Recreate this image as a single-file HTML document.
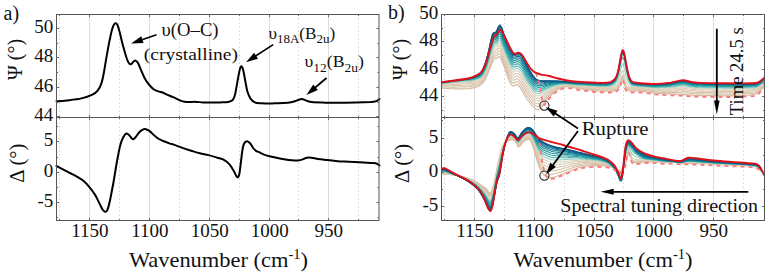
<!DOCTYPE html>
<html><head><meta charset="utf-8"><style>
html,body{margin:0;padding:0;background:#fff;}
body{width:769px;height:275px;overflow:hidden;font-family:"Liberation Serif", serif;}
svg{display:block;}
</style></head><body>
<svg width="769" height="275" viewBox="0 0 769 275"><line x1="89.5" y1="14.5" x2="89.5" y2="220.5" stroke="#dcdcdc" stroke-width="1"/>
<line x1="149.5" y1="14.5" x2="149.5" y2="220.5" stroke="#dcdcdc" stroke-width="1"/>
<line x1="209.5" y1="14.5" x2="209.5" y2="220.5" stroke="#dcdcdc" stroke-width="1"/>
<line x1="269.5" y1="14.5" x2="269.5" y2="220.5" stroke="#dcdcdc" stroke-width="1"/>
<line x1="328.5" y1="14.5" x2="328.5" y2="220.5" stroke="#dcdcdc" stroke-width="1"/>
<line x1="59.5" y1="14.5" x2="59.5" y2="220.5" stroke="#d4d4d4" stroke-width="1" stroke-dasharray="1.5,2.5"/>
<line x1="119.5" y1="14.5" x2="119.5" y2="220.5" stroke="#d4d4d4" stroke-width="1" stroke-dasharray="1.5,2.5"/>
<line x1="179.5" y1="14.5" x2="179.5" y2="220.5" stroke="#d4d4d4" stroke-width="1" stroke-dasharray="1.5,2.5"/>
<line x1="239.5" y1="14.5" x2="239.5" y2="220.5" stroke="#d4d4d4" stroke-width="1" stroke-dasharray="1.5,2.5"/>
<line x1="298.5" y1="14.5" x2="298.5" y2="220.5" stroke="#d4d4d4" stroke-width="1" stroke-dasharray="1.5,2.5"/>
<line x1="358.5" y1="14.5" x2="358.5" y2="220.5" stroke="#d4d4d4" stroke-width="1" stroke-dasharray="1.5,2.5"/>
<line x1="474.5" y1="14.5" x2="474.5" y2="220.5" stroke="#dcdcdc" stroke-width="1"/>
<line x1="534.5" y1="14.5" x2="534.5" y2="220.5" stroke="#dcdcdc" stroke-width="1"/>
<line x1="594.5" y1="14.5" x2="594.5" y2="220.5" stroke="#dcdcdc" stroke-width="1"/>
<line x1="653.5" y1="14.5" x2="653.5" y2="220.5" stroke="#dcdcdc" stroke-width="1"/>
<line x1="713.5" y1="14.5" x2="713.5" y2="220.5" stroke="#dcdcdc" stroke-width="1"/>
<line x1="444.5" y1="14.5" x2="444.5" y2="220.5" stroke="#d4d4d4" stroke-width="1" stroke-dasharray="1.5,2.5"/>
<line x1="504.5" y1="14.5" x2="504.5" y2="220.5" stroke="#d4d4d4" stroke-width="1" stroke-dasharray="1.5,2.5"/>
<line x1="564.5" y1="14.5" x2="564.5" y2="220.5" stroke="#d4d4d4" stroke-width="1" stroke-dasharray="1.5,2.5"/>
<line x1="623.5" y1="14.5" x2="623.5" y2="220.5" stroke="#d4d4d4" stroke-width="1" stroke-dasharray="1.5,2.5"/>
<line x1="683.5" y1="14.5" x2="683.5" y2="220.5" stroke="#d4d4d4" stroke-width="1" stroke-dasharray="1.5,2.5"/>
<line x1="743.5" y1="14.5" x2="743.5" y2="220.5" stroke="#d4d4d4" stroke-width="1" stroke-dasharray="1.5,2.5"/>
<g fill="none" stroke="#000" stroke-width="2.0" stroke-linejoin="round" stroke-linecap="round">
<path d="M56.5,101.3C58.2,101.2 62.7,101.0 66.9,100.5C71.1,100.0 77.2,99.4 81.5,98.4C85.8,97.4 89.7,96.0 92.4,94.7C95.1,93.4 96.3,92.3 97.8,90.4C99.3,88.5 100.5,86.0 101.5,83.1C102.5,80.2 103.0,77.2 103.8,73.0C104.6,68.8 105.5,62.7 106.4,57.6C107.3,52.5 108.3,46.9 109.2,42.4C110.1,37.9 111.0,33.4 111.8,30.4C112.6,27.4 113.3,25.7 114.0,24.5C114.7,23.3 115.2,23.2 115.8,23.3C116.4,23.4 116.9,23.8 117.5,25.2C118.1,26.6 118.8,29.0 119.5,31.5C120.2,34.0 120.8,36.9 121.6,40.2C122.4,43.5 123.6,47.9 124.5,51.1C125.4,54.3 126.3,57.4 127.1,59.5C127.9,61.6 128.8,63.1 129.5,63.8C130.2,64.5 130.8,64.2 131.5,63.8C132.2,63.4 132.9,62.0 133.6,61.5C134.3,61.0 134.9,60.3 135.6,60.6C136.3,60.9 137.1,61.5 138.0,63.1C138.9,64.7 140.1,67.8 141.1,70.2C142.1,72.6 143.1,75.2 144.2,77.3C145.3,79.4 146.4,81.2 147.5,82.7C148.6,84.2 149.6,85.4 150.7,86.5C151.8,87.6 152.7,88.7 154.0,89.5C155.3,90.3 157.0,90.9 158.4,91.4C159.8,91.9 161.2,92.0 162.7,92.5C164.1,93.0 165.6,94.0 167.1,94.7C168.6,95.4 170.1,95.9 171.5,96.5C172.9,97.1 174.4,97.7 175.8,98.4C177.2,99.1 178.8,100.0 180.2,100.5C181.6,101.0 182.9,101.5 184.5,101.7C186.1,101.9 188.0,101.9 190.0,101.9C192.0,101.9 194.3,101.8 196.5,101.9C198.7,102.0 200.5,102.3 203.1,102.4C205.7,102.5 208.9,102.4 211.8,102.4C214.7,102.4 217.8,102.5 220.5,102.4C223.2,102.3 226.2,102.3 228.2,101.9C230.2,101.5 231.4,101.2 232.5,100.2C233.6,99.2 234.0,98.0 234.7,95.8C235.4,93.6 235.9,90.4 236.5,87.1C237.1,83.8 237.8,79.3 238.4,76.2C239.0,73.1 239.6,70.1 240.1,68.5C240.6,66.9 241.1,66.2 241.6,66.4C242.1,66.7 242.6,67.6 243.2,70.0C243.8,72.4 244.6,77.4 245.3,81.0C246.0,84.6 246.5,88.6 247.4,91.5C248.3,94.4 249.2,96.8 250.5,98.6C251.8,100.4 253.4,101.8 255.3,102.6C257.2,103.4 259.6,103.0 261.8,103.2C264.0,103.4 266.2,103.6 268.4,103.6C270.6,103.6 272.4,103.3 274.9,103.2C277.4,103.1 280.7,103.2 283.6,103.0C286.5,102.8 290.2,102.3 292.4,101.9C294.6,101.5 295.3,101.0 296.7,100.6C298.1,100.1 299.4,99.4 300.5,99.2C301.6,99.0 302.0,99.1 303.0,99.3C304.0,99.5 304.9,100.1 306.4,100.6C307.9,101.1 309.1,101.8 311.8,102.1C314.5,102.4 319.2,102.5 322.8,102.6C326.4,102.7 328.2,102.8 333.7,102.8C339.1,102.8 349.3,102.7 355.5,102.6C361.7,102.5 367.3,102.3 370.8,102.1C374.3,101.8 374.9,101.6 376.3,101.1C377.8,100.6 379.0,99.3 379.5,99.0"/>
<path d="M56.5,165.8C57.5,166.4 60.4,168.0 62.5,169.1C64.6,170.2 66.8,171.4 69.1,172.6C71.4,173.8 74.2,175.0 76.5,176.3C78.8,177.6 80.9,178.7 83.1,180.5C85.3,182.3 87.6,184.9 89.6,187.3C91.6,189.7 93.4,192.2 95.1,194.9C96.8,197.6 98.2,201.1 99.5,203.6C100.8,206.1 101.8,208.3 102.7,209.7C103.6,211.0 104.2,211.5 104.9,211.7C105.6,211.8 106.4,211.9 107.1,210.6C107.8,209.2 108.6,206.6 109.3,203.6C110.0,200.6 110.8,196.5 111.5,192.7C112.2,188.9 113.0,185.3 113.7,181.0C114.5,176.7 115.3,171.2 116.0,167.0C116.7,162.8 117.3,159.5 118.0,156.0C118.7,152.5 119.2,149.3 120.0,146.2C120.8,143.1 122.0,139.6 123.1,137.5C124.2,135.4 125.4,133.9 126.4,133.5C127.4,133.1 128.3,134.5 129.2,135.3C130.1,136.1 131.1,137.8 131.8,138.5C132.5,139.2 132.9,139.5 133.6,139.2C134.3,138.8 135.2,137.6 136.2,136.4C137.2,135.2 138.2,133.2 139.5,132.0C140.8,130.8 142.7,129.7 143.8,129.2C144.9,128.7 145.1,128.9 146.0,129.2C146.9,129.5 148.0,130.0 149.3,130.9C150.6,131.8 152.2,133.5 153.6,134.8C155.0,136.1 156.5,137.5 158.0,138.5C159.5,139.5 160.4,139.8 162.4,140.7C164.4,141.5 168.1,142.9 170.0,143.6C171.9,144.2 171.6,143.9 173.7,144.6C175.8,145.3 179.5,146.9 182.4,147.9C185.3,148.9 188.3,149.8 191.2,150.7C194.1,151.6 197.0,152.6 199.9,153.3C202.8,154.0 205.7,154.4 208.6,155.1C211.5,155.8 214.8,156.9 217.3,157.7C219.9,158.5 221.9,158.8 223.9,159.9C225.9,161.0 227.7,162.4 229.3,164.2C230.9,166.0 232.4,168.6 233.7,170.8C235.0,173.0 236.2,176.6 237.1,177.2C238.0,177.8 238.6,176.9 239.2,174.5C239.8,172.1 240.3,166.9 240.8,163.0C241.3,159.1 241.8,154.2 242.3,151.0C242.8,147.8 243.2,145.4 244.0,143.8C244.8,142.2 245.9,141.4 247.0,141.3C248.1,141.2 249.2,142.3 250.3,143.5C251.4,144.7 252.6,147.3 253.5,148.5C254.4,149.7 255.1,150.2 256.0,150.8C256.9,151.4 257.4,151.5 259.0,152.2C260.6,152.9 263.0,154.2 265.5,155.1C268.0,155.9 271.3,156.7 274.2,157.3C277.1,158.0 280.1,158.5 283.0,159.0C285.9,159.5 289.2,160.1 291.7,160.3C294.2,160.6 296.4,160.7 298.2,160.5C300.0,160.3 301.2,159.9 302.6,159.4C304.1,158.9 305.4,158.0 306.9,157.7C308.3,157.4 309.4,157.5 311.3,157.7C313.2,157.9 315.5,158.6 318.1,159.0C320.7,159.4 323.5,159.7 326.8,160.1C330.1,160.5 334.1,160.9 337.7,161.2C341.3,161.5 345.0,161.6 348.6,161.8C352.2,162.0 355.9,162.0 359.5,162.2C363.1,162.4 367.7,162.7 370.4,162.9C373.1,163.1 374.3,162.9 375.8,163.3C377.3,163.7 378.9,165.1 379.5,165.5"/>
</g>
<defs><clipPath id="cb"><rect x="441.5" y="14.5" width="323" height="206"/></clipPath></defs><g clip-path="url(#cb)">
<g fill="none" stroke-width="1.10" stroke-linejoin="round"><path d="M441.5,88.1 443.0,88.2 444.5,88.3 446.0,88.4 447.5,88.5 449.0,88.6 450.5,88.7 452.0,88.8 453.5,88.8 455.0,88.9 456.5,88.9 458.0,88.9 459.5,88.9 461.0,88.9 462.5,88.9 464.0,88.9 465.5,88.8 467.0,88.7 468.5,88.6 470.0,88.4 471.5,88.1 473.0,87.9 474.5,87.6 476.0,87.3 477.5,86.8 479.0,86.0 480.5,84.9 482.0,83.6 483.5,82.1 485.0,80.0 486.5,76.9 488.0,73.2 489.5,69.3 491.0,65.7 492.5,62.5 494.0,59.1 495.5,57.9 497.0,58.5 498.5,56.5 500.0,56.9 501.5,59.8 503.0,63.8 504.5,67.6 506.0,71.9 507.5,76.2 509.0,79.9 510.5,83.1 512.0,85.5 513.5,86.3 515.0,85.1 516.5,84.5 518.0,85.0 519.5,86.7 521.0,88.9 522.5,91.3 524.0,94.0 525.5,96.7 527.0,99.0 528.5,101.1 530.0,103.0 531.5,104.9 533.0,106.6 534.5,107.9 536.0,109.0 537.5,109.6 539.0,109.4 540.5,108.5 542.0,107.0 543.5,104.8 545.0,102.4 546.5,100.5 548.0,98.7 549.5,97.0 551.0,95.4 552.5,93.8 554.0,92.4 555.5,91.1 557.0,90.1 558.5,89.2 560.0,88.5 561.5,87.9 563.0,87.4 564.5,87.1 566.0,86.8 567.5,86.8 569.0,86.8 570.5,86.9 572.0,87.2 573.5,87.6 575.0,87.9 576.5,88.3 578.0,88.5 579.5,88.8 581.0,89.0 582.5,89.1 584.0,89.3 585.5,89.5 587.0,89.7 588.5,89.9 590.0,90.1 591.5,90.3 593.0,90.5 594.5,90.7 596.0,90.8 597.5,90.9 599.0,91.0 600.5,91.0 602.0,91.1 603.5,91.1 605.0,91.1 606.5,91.2 608.0,91.2 609.5,91.2 611.0,91.2 612.5,91.1 614.0,90.9 615.5,90.6 617.0,89.7 618.5,88.3 620.0,85.7 621.5,80.4 623.0,78.2 624.5,84.4 626.0,89.2 627.5,90.3 629.0,90.7 630.5,91.0 632.0,91.0 633.5,91.0 635.0,90.9 636.5,90.9 638.0,90.9 639.5,91.0 641.0,91.1 642.5,91.3 644.0,91.4 645.5,91.6 647.0,91.8 648.5,92.0 650.0,92.3 651.5,92.6 653.0,92.8 654.5,93.0 656.0,93.2 657.5,93.3 659.0,93.4 660.5,93.5 662.0,93.5 663.5,93.6 665.0,93.7 666.5,93.8 668.0,93.9 669.5,93.9 671.0,94.0 672.5,94.1 674.0,94.1 675.5,94.1 677.0,94.2 678.5,94.2 680.0,94.3 681.5,94.4 683.0,94.5 684.5,94.6 686.0,94.7 687.5,94.9 689.0,95.0 690.5,95.1 692.0,95.2 693.5,95.3 695.0,95.4 696.5,95.4 698.0,95.4 699.5,95.5 701.0,95.5 702.5,95.5 704.0,95.5 705.5,95.5 707.0,95.5 708.5,95.5 710.0,95.6 711.5,95.6 713.0,95.6 714.5,95.6 716.0,95.6 717.5,95.6 719.0,95.6 720.5,95.7 722.0,95.7 723.5,95.7 725.0,95.7 726.5,95.7 728.0,95.7 729.5,95.7 731.0,95.7 732.5,95.7 734.0,95.6 735.5,95.6 737.0,95.6 738.5,95.5 740.0,95.5 741.5,95.5 743.0,95.4 744.5,95.4 746.0,95.3 747.5,95.2 749.0,95.1 750.5,95.0 752.0,94.9 753.5,94.7 755.0,94.3 756.5,93.7 758.0,92.9 759.5,91.5 761.0,90.1 762.5,88.7 764.0,87.3" stroke="#d2b89c"/><path d="M441.5,86.9 443.0,86.9 444.5,87.0 446.0,87.0 447.5,87.0 449.0,87.1 450.5,87.1 452.0,87.1 453.5,87.1 455.0,87.1 456.5,87.0 458.0,87.0 459.5,87.0 461.0,86.9 462.5,86.9 464.0,86.9 465.5,86.9 467.0,86.8 468.5,86.7 470.0,86.6 471.5,86.4 473.0,86.2 474.5,85.9 476.0,85.7 477.5,85.3 479.0,84.5 480.5,83.5 482.0,82.2 483.5,80.5 485.0,78.4 486.5,75.3 488.0,71.4 489.5,67.2 491.0,63.3 492.5,59.9 494.0,56.6 495.5,55.6 497.0,55.8 498.5,53.7 500.0,54.0 501.5,56.8 503.0,60.8 504.5,64.7 506.0,68.8 507.5,73.1 509.0,76.8 510.5,80.0 512.0,82.4 513.5,83.3 515.0,82.3 516.5,81.6 518.0,82.1 519.5,83.6 521.0,85.7 522.5,88.1 524.0,90.8 525.5,93.5 527.0,95.9 528.5,98.0 530.0,100.0 531.5,101.9 533.0,103.6 534.5,105.0 536.0,106.1 537.5,106.6 539.0,106.4 540.5,105.6 542.0,104.3 543.5,102.3 545.0,100.2 546.5,98.4 548.0,96.9 549.5,95.3 551.0,93.8 552.5,92.4 554.0,91.1 555.5,90.0 557.0,89.1 558.5,88.3 560.0,87.7 561.5,87.2 563.0,86.8 564.5,86.5 566.0,86.3 567.5,86.2 569.0,86.3 570.5,86.4 572.0,86.7 573.5,87.0 575.0,87.3 576.5,87.6 578.0,87.9 579.5,88.1 581.0,88.2 582.5,88.4 584.0,88.6 585.5,88.7 587.0,88.9 588.5,89.1 590.0,89.3 591.5,89.4 593.0,89.6 594.5,89.8 596.0,89.9 597.5,89.9 599.0,90.0 600.5,90.1 602.0,90.1 603.5,90.1 605.0,90.2 606.5,90.2 608.0,90.2 609.5,90.2 611.0,90.2 612.5,90.1 614.0,89.9 615.5,89.6 617.0,88.7 618.5,87.3 620.0,84.7 621.5,79.4 623.0,77.3 624.5,83.5 626.0,88.2 627.5,89.4 629.0,89.8 630.5,90.0 632.0,90.0 633.5,90.0 635.0,89.9 636.5,89.9 638.0,89.9 639.5,90.1 641.0,90.2 642.5,90.3 644.0,90.5 645.5,90.7 647.0,90.8 648.5,91.0 650.0,91.3 651.5,91.5 653.0,91.7 654.5,91.9 656.0,92.1 657.5,92.2 659.0,92.2 660.5,92.3 662.0,92.3 663.5,92.4 665.0,92.4 666.5,92.5 668.0,92.5 669.5,92.6 671.0,92.6 672.5,92.6 674.0,92.6 675.5,92.6 677.0,92.6 678.5,92.6 680.0,92.6 681.5,92.7 683.0,92.7 684.5,92.9 686.0,93.0 687.5,93.1 689.0,93.3 690.5,93.5 692.0,93.6 693.5,93.7 695.0,93.8 696.5,93.8 698.0,93.9 699.5,93.9 701.0,93.9 702.5,93.9 704.0,94.0 705.5,94.0 707.0,94.0 708.5,94.0 710.0,94.0 711.5,94.0 713.0,94.0 714.5,94.1 716.0,94.1 717.5,94.1 719.0,94.1 720.5,94.1 722.0,94.1 723.5,94.2 725.0,94.2 726.5,94.2 728.0,94.2 729.5,94.2 731.0,94.1 732.5,94.1 734.0,94.1 735.5,94.1 737.0,94.1 738.5,94.0 740.0,94.0 741.5,94.0 743.0,93.9 744.5,93.9 746.0,93.8 747.5,93.8 749.0,93.7 750.5,93.6 752.0,93.5 753.5,93.3 755.0,93.0 756.5,92.4 758.0,91.6 759.5,90.3 761.0,88.9 762.5,87.5 764.0,86.1" stroke="#d5bda2"/><path d="M441.5,85.9 443.0,85.9 444.5,85.8 446.0,85.8 447.5,85.8 449.0,85.8 450.5,85.7 452.0,85.7 453.5,85.6 455.0,85.6 456.5,85.5 458.0,85.4 459.5,85.4 461.0,85.3 462.5,85.2 464.0,85.2 465.5,85.2 467.0,85.2 468.5,85.1 470.0,85.0 471.5,84.9 473.0,84.7 474.5,84.5 476.0,84.2 477.5,83.8 479.0,83.1 480.5,82.1 482.0,80.8 483.5,79.1 485.0,76.9 486.5,73.7 488.0,69.7 489.5,65.2 491.0,61.0 492.5,57.3 494.0,54.3 495.5,53.3 497.0,53.3 498.5,51.0 500.0,51.1 501.5,53.8 503.0,57.8 504.5,61.8 506.0,65.9 507.5,70.0 509.0,73.7 510.5,76.9 512.0,79.4 513.5,80.4 515.0,79.5 516.5,78.8 518.0,79.2 519.5,80.6 521.0,82.6 522.5,84.9 524.0,87.6 525.5,90.4 527.0,92.8 528.5,95.0 530.0,97.0 531.5,99.0 533.0,100.7 534.5,102.1 536.0,103.2 537.5,103.8 539.0,103.6 540.5,102.9 542.0,101.7 543.5,100.0 545.0,98.0 546.5,96.5 548.0,95.1 549.5,93.7 551.0,92.4 552.5,91.1 554.0,90.0 555.5,89.0 557.0,88.2 558.5,87.5 560.0,87.0 561.5,86.5 563.0,86.2 564.5,85.9 566.0,85.8 567.5,85.7 569.0,85.8 570.5,85.9 572.0,86.1 573.5,86.4 575.0,86.7 576.5,87.0 578.0,87.2 579.5,87.4 581.0,87.5 582.5,87.7 584.0,87.8 585.5,88.0 587.0,88.1 588.5,88.3 590.0,88.5 591.5,88.6 593.0,88.8 594.5,88.9 596.0,89.0 597.5,89.1 599.0,89.1 600.5,89.2 602.0,89.2 603.5,89.2 605.0,89.2 606.5,89.2 608.0,89.3 609.5,89.3 611.0,89.2 612.5,89.2 614.0,89.0 615.5,88.6 617.0,87.8 618.5,86.3 620.0,83.8 621.5,78.5 623.0,76.3 624.5,82.5 626.0,87.3 627.5,88.5 629.0,88.9 630.5,89.1 632.0,89.1 633.5,89.1 635.0,89.0 636.5,89.0 638.0,89.1 639.5,89.2 641.0,89.3 642.5,89.4 644.0,89.6 645.5,89.8 647.0,89.9 648.5,90.1 650.0,90.3 651.5,90.5 653.0,90.7 654.5,90.9 656.0,91.0 657.5,91.1 659.0,91.1 660.5,91.2 662.0,91.2 663.5,91.2 665.0,91.3 666.5,91.3 668.0,91.3 669.5,91.3 671.0,91.3 672.5,91.3 674.0,91.2 675.5,91.1 677.0,91.1 678.5,91.0 680.0,91.0 681.5,91.0 683.0,91.1 684.5,91.2 686.0,91.4 687.5,91.5 689.0,91.7 690.5,91.9 692.0,92.1 693.5,92.2 695.0,92.3 696.5,92.4 698.0,92.4 699.5,92.4 701.0,92.5 702.5,92.5 704.0,92.5 705.5,92.5 707.0,92.6 708.5,92.6 710.0,92.6 711.5,92.6 713.0,92.6 714.5,92.6 716.0,92.6 717.5,92.7 719.0,92.7 720.5,92.7 722.0,92.7 723.5,92.7 725.0,92.7 726.5,92.7 728.0,92.7 729.5,92.7 731.0,92.7 732.5,92.7 734.0,92.7 735.5,92.7 737.0,92.7 738.5,92.6 740.0,92.6 741.5,92.6 743.0,92.5 744.5,92.5 746.0,92.5 747.5,92.4 749.0,92.3 750.5,92.3 752.0,92.1 753.5,92.0 755.0,91.7 756.5,91.2 758.0,90.4 759.5,89.1 761.0,87.8 762.5,86.5 764.0,85.1" stroke="#d8c3a9"/><path d="M441.5,85.1 443.0,85.0 444.5,84.9 446.0,84.8 447.5,84.8 449.0,84.7 450.5,84.6 452.0,84.5 453.5,84.4 455.0,84.3 456.5,84.2 458.0,84.1 459.5,84.0 461.0,83.9 462.5,83.8 464.0,83.8 465.5,83.8 467.0,83.8 468.5,83.8 470.0,83.7 471.5,83.6 473.0,83.4 474.5,83.1 476.0,82.9 477.5,82.5 479.0,81.8 480.5,80.9 482.0,79.5 483.5,77.7 485.0,75.4 486.5,72.1 488.0,68.0 489.5,63.2 491.0,58.7 492.5,54.9 494.0,52.0 495.5,51.1 497.0,50.8 498.5,48.3 500.0,48.3 501.5,51.0 503.0,55.0 504.5,58.9 506.0,63.0 507.5,67.1 509.0,70.8 510.5,74.0 512.0,76.5 513.5,77.6 515.0,76.8 516.5,76.1 518.0,76.4 519.5,77.6 521.0,79.5 522.5,81.8 524.0,84.5 525.5,87.3 527.0,89.9 528.5,92.1 530.0,94.2 531.5,96.2 533.0,97.9 534.5,99.4 536.0,100.5 537.5,101.0 539.0,100.9 540.5,100.3 542.0,99.3 543.5,97.7 545.0,95.9 546.5,94.6 548.0,93.3 549.5,92.1 551.0,91.0 552.5,89.9 554.0,88.9 555.5,88.0 557.0,87.3 558.5,86.7 560.0,86.3 561.5,85.9 563.0,85.6 564.5,85.4 566.0,85.3 567.5,85.2 569.0,85.3 570.5,85.4 572.0,85.6 573.5,85.9 575.0,86.2 576.5,86.4 578.0,86.6 579.5,86.8 581.0,86.9 582.5,87.0 584.0,87.1 585.5,87.3 587.0,87.4 588.5,87.6 590.0,87.7 591.5,87.9 593.0,88.0 594.5,88.1 596.0,88.2 597.5,88.2 599.0,88.3 600.5,88.3 602.0,88.3 603.5,88.4 605.0,88.4 606.5,88.4 608.0,88.4 609.5,88.4 611.0,88.4 612.5,88.3 614.0,88.1 615.5,87.7 617.0,86.9 618.5,85.5 620.0,82.9 621.5,77.6 623.0,75.5 624.5,81.7 626.0,86.5 627.5,87.6 629.0,88.0 630.5,88.2 632.0,88.3 633.5,88.2 635.0,88.2 636.5,88.2 638.0,88.2 639.5,88.4 641.0,88.5 642.5,88.6 644.0,88.8 645.5,88.9 647.0,89.1 648.5,89.3 650.0,89.5 651.5,89.6 653.0,89.8 654.5,90.0 656.0,90.0 657.5,90.1 659.0,90.1 660.5,90.1 662.0,90.1 663.5,90.2 665.0,90.2 666.5,90.2 668.0,90.1 669.5,90.1 671.0,90.1 672.5,90.0 674.0,89.9 675.5,89.8 677.0,89.7 678.5,89.6 680.0,89.6 681.5,89.5 683.0,89.6 684.5,89.7 686.0,89.8 687.5,90.1 689.0,90.3 690.5,90.5 692.0,90.7 693.5,90.8 695.0,90.9 696.5,91.0 698.0,91.0 699.5,91.1 701.0,91.1 702.5,91.1 704.0,91.2 705.5,91.2 707.0,91.2 708.5,91.2 710.0,91.3 711.5,91.3 713.0,91.3 714.5,91.3 716.0,91.3 717.5,91.3 719.0,91.4 720.5,91.4 722.0,91.4 723.5,91.4 725.0,91.4 726.5,91.4 728.0,91.4 729.5,91.4 731.0,91.4 732.5,91.4 734.0,91.4 735.5,91.4 737.0,91.4 738.5,91.3 740.0,91.3 741.5,91.3 743.0,91.3 744.5,91.2 746.0,91.2 747.5,91.1 749.0,91.1 750.5,91.0 752.0,90.9 753.5,90.8 755.0,90.5 756.5,90.1 758.0,89.2 759.5,88.1 761.0,86.8 762.5,85.5 764.0,84.1" stroke="#dcc8af"/><path d="M441.5,84.4 443.0,84.3 444.5,84.2 446.0,84.1 447.5,83.9 449.0,83.8 450.5,83.7 452.0,83.6 453.5,83.5 455.0,83.3 456.5,83.2 458.0,83.1 459.5,82.9 461.0,82.8 462.5,82.7 464.0,82.7 465.5,82.7 467.0,82.6 468.5,82.6 470.0,82.5 471.5,82.4 473.0,82.2 474.5,82.0 476.0,81.7 477.5,81.2 479.0,80.6 480.5,79.7 482.0,78.3 483.5,76.4 485.0,74.0 486.5,70.6 488.0,66.3 489.5,61.4 491.0,56.5 492.5,52.5 494.0,49.7 495.5,49.0 497.0,48.4 498.5,45.8 500.0,45.6 501.5,48.2 503.0,52.3 504.5,56.2 506.0,60.2 507.5,64.3 509.0,67.9 510.5,71.1 512.0,73.6 513.5,74.9 515.0,74.1 516.5,73.4 518.0,73.7 519.5,74.8 521.0,76.6 522.5,78.8 524.0,81.6 525.5,84.4 527.0,87.0 528.5,89.4 530.0,91.5 531.5,93.5 533.0,95.3 534.5,96.8 536.0,97.9 537.5,98.4 539.0,98.4 540.5,97.8 542.0,96.9 543.5,95.5 545.0,94.0 546.5,92.8 548.0,91.7 549.5,90.7 551.0,89.7 552.5,88.7 554.0,87.8 555.5,87.1 557.0,86.5 558.5,86.0 560.0,85.6 561.5,85.3 563.0,85.0 564.5,84.9 566.0,84.8 567.5,84.8 569.0,84.8 570.5,85.0 572.0,85.2 573.5,85.4 575.0,85.6 576.5,85.9 578.0,86.0 579.5,86.2 581.0,86.3 582.5,86.4 584.0,86.5 585.5,86.6 587.0,86.7 588.5,86.9 590.0,87.0 591.5,87.1 593.0,87.2 594.5,87.3 596.0,87.4 597.5,87.5 599.0,87.5 600.5,87.5 602.0,87.6 603.5,87.6 605.0,87.6 606.5,87.6 608.0,87.6 609.5,87.6 611.0,87.6 612.5,87.5 614.0,87.3 615.5,86.9 617.0,86.0 618.5,84.6 620.0,82.0 621.5,76.7 623.0,74.5 624.5,80.7 626.0,85.5 627.5,86.7 629.0,87.2 630.5,87.4 632.0,87.5 633.5,87.5 635.0,87.4 636.5,87.4 638.0,87.5 639.5,87.6 641.0,87.7 642.5,87.9 644.0,88.0 645.5,88.2 647.0,88.3 648.5,88.5 650.0,88.7 651.5,88.8 653.0,89.0 654.5,89.1 656.0,89.2 657.5,89.2 659.0,89.2 660.5,89.2 662.0,89.2 663.5,89.2 665.0,89.1 666.5,89.1 668.0,89.1 669.5,89.0 671.0,89.0 672.5,88.9 674.0,88.7 675.5,88.6 677.0,88.4 678.5,88.3 680.0,88.2 681.5,88.2 683.0,88.2 684.5,88.3 686.0,88.5 687.5,88.7 689.0,89.0 690.5,89.2 692.0,89.4 693.5,89.5 695.0,89.6 696.5,89.7 698.0,89.8 699.5,89.8 701.0,89.9 702.5,89.9 704.0,89.9 705.5,90.0 707.0,90.0 708.5,90.0 710.0,90.0 711.5,90.0 713.0,90.1 714.5,90.1 716.0,90.1 717.5,90.1 719.0,90.1 720.5,90.2 722.0,90.2 723.5,90.2 725.0,90.2 726.5,90.2 728.0,90.2 729.5,90.2 731.0,90.2 732.5,90.2 734.0,90.2 735.5,90.2 737.0,90.2 738.5,90.2 740.0,90.1 741.5,90.1 743.0,90.1 744.5,90.1 746.0,90.0 747.5,90.0 749.0,89.9 750.5,89.9 752.0,89.8 753.5,89.6 755.0,89.4 756.5,89.0 758.0,88.2 759.5,87.1 761.0,85.9 762.5,84.6 764.0,83.2" stroke="#ddcdb6"/><path d="M441.5,83.9 443.0,83.7 444.5,83.6 446.0,83.4 447.5,83.3 449.0,83.1 450.5,83.0 452.0,82.8 453.5,82.7 455.0,82.5 456.5,82.4 458.0,82.2 459.5,82.1 461.0,81.9 462.5,81.8 464.0,81.8 465.5,81.7 467.0,81.7 468.5,81.6 470.0,81.5 471.5,81.4 473.0,81.2 474.5,80.9 476.0,80.6 477.5,80.1 479.0,79.5 480.5,78.6 482.0,77.2 483.5,75.2 485.0,72.7 486.5,69.2 488.0,64.7 489.5,59.5 491.0,54.4 492.5,50.2 494.0,47.6 495.5,46.9 497.0,46.0 498.5,43.4 500.0,43.1 501.5,45.6 503.0,49.7 504.5,53.6 506.0,57.6 507.5,61.5 509.0,65.2 510.5,68.3 512.0,70.9 513.5,72.3 515.0,71.6 516.5,70.9 518.0,71.0 519.5,72.1 521.0,73.8 522.5,75.9 524.0,78.7 525.5,81.6 527.0,84.3 528.5,86.7 530.0,88.8 531.5,90.9 533.0,92.7 534.5,94.3 536.0,95.4 537.5,95.9 539.0,95.9 540.5,95.4 542.0,94.6 543.5,93.4 545.0,92.1 546.5,91.1 548.0,90.2 549.5,89.3 551.0,88.4 552.5,87.6 554.0,86.9 555.5,86.2 557.0,85.7 558.5,85.3 560.0,85.0 561.5,84.7 563.0,84.5 564.5,84.4 566.0,84.3 567.5,84.4 569.0,84.4 570.5,84.5 572.0,84.7 573.5,84.9 575.0,85.1 576.5,85.3 578.0,85.5 579.5,85.6 581.0,85.7 582.5,85.8 584.0,85.9 585.5,86.0 587.0,86.1 588.5,86.2 590.0,86.4 591.5,86.5 593.0,86.6 594.5,86.7 596.0,86.7 597.5,86.8 599.0,86.8 600.5,86.8 602.0,86.8 603.5,86.9 605.0,86.9 606.5,86.8 608.0,86.8 609.5,86.8 611.0,86.6 612.5,86.4 614.0,86.1 615.5,85.5 617.0,84.2 618.5,81.9 620.0,78.4 621.5,72.6 623.0,70.2 624.5,76.1 626.0,81.6 627.5,84.0 629.0,85.4 630.5,86.2 632.0,86.6 633.5,86.7 635.0,86.7 636.5,86.7 638.0,86.8 639.5,86.9 641.0,87.0 642.5,87.2 644.0,87.3 645.5,87.5 647.0,87.6 648.5,87.8 650.0,87.9 651.5,88.1 653.0,88.2 654.5,88.3 656.0,88.3 657.5,88.4 659.0,88.3 660.5,88.3 662.0,88.3 663.5,88.3 665.0,88.2 666.5,88.2 668.0,88.1 669.5,88.0 671.0,87.9 672.5,87.8 674.0,87.6 675.5,87.5 677.0,87.3 678.5,87.1 680.0,87.0 681.5,86.9 683.0,86.9 684.5,87.0 686.0,87.2 687.5,87.5 689.0,87.7 690.5,88.0 692.0,88.2 693.5,88.4 695.0,88.5 696.5,88.6 698.0,88.7 699.5,88.7 701.0,88.8 702.5,88.8 704.0,88.8 705.5,88.8 707.0,88.9 708.5,88.9 710.0,88.9 711.5,88.9 713.0,88.9 714.5,89.0 716.0,89.0 717.5,89.0 719.0,89.0 720.5,89.0 722.0,89.1 723.5,89.1 725.0,89.1 726.5,89.1 728.0,89.1 729.5,89.1 731.0,89.1 732.5,89.1 734.0,89.1 735.5,89.1 737.0,89.1 738.5,89.1 740.0,89.0 741.5,89.0 743.0,89.0 744.5,89.0 746.0,89.0 747.5,88.9 749.0,88.9 750.5,88.8 752.0,88.7 753.5,88.6 755.0,88.4 756.5,88.0 758.0,87.3 759.5,86.3 761.0,85.0 762.5,83.7 764.0,82.4" stroke="#d8d2bd"/><path d="M441.5,83.4 443.0,83.3 444.5,83.1 446.0,82.9 447.5,82.8 449.0,82.6 450.5,82.4 452.0,82.3 453.5,82.1 455.0,81.9 456.5,81.7 458.0,81.6 459.5,81.4 461.0,81.2 462.5,81.1 464.0,81.0 465.5,80.9 467.0,80.9 468.5,80.8 470.0,80.7 471.5,80.5 473.0,80.3 474.5,80.0 476.0,79.7 477.5,79.2 479.0,78.5 480.5,77.6 482.0,76.1 483.5,74.0 485.0,71.4 486.5,67.8 488.0,63.2 489.5,57.8 491.0,52.4 492.5,47.9 494.0,45.5 495.5,44.9 497.0,43.8 498.5,41.0 500.0,40.6 501.5,43.0 503.0,47.1 504.5,51.1 506.0,55.0 507.5,58.9 509.0,62.5 510.5,65.7 512.0,68.3 513.5,69.7 515.0,69.2 516.5,68.5 518.0,68.5 519.5,69.5 521.0,71.0 522.5,73.2 524.0,75.9 525.5,78.9 527.0,81.6 528.5,84.1 530.0,86.3 531.5,88.4 533.0,90.2 534.5,91.9 536.0,93.0 537.5,93.5 539.0,93.6 540.5,93.2 542.0,92.5 543.5,91.5 545.0,90.4 546.5,89.5 548.0,88.7 549.5,88.0 551.0,87.2 552.5,86.6 554.0,85.9 555.5,85.4 557.0,85.0 558.5,84.6 560.0,84.4 561.5,84.2 563.0,84.0 564.5,83.9 566.0,83.9 567.5,84.0 569.0,84.0 570.5,84.2 572.0,84.3 573.5,84.5 575.0,84.7 576.5,84.9 578.0,85.0 579.5,85.1 581.0,85.2 582.5,85.2 584.0,85.3 585.5,85.4 587.0,85.5 588.5,85.6 590.0,85.8 591.5,85.9 593.0,85.9 594.5,86.0 596.0,86.1 597.5,86.1 599.0,86.2 600.5,86.2 602.0,86.2 603.5,86.2 605.0,86.2 606.5,86.2 608.0,86.1 609.5,86.0 611.0,85.6 612.5,85.3 614.0,84.6 615.5,83.5 617.0,81.5 618.5,78.0 620.0,72.7 621.5,66.2 623.0,63.4 624.5,68.8 626.0,75.3 627.5,79.8 629.0,82.9 630.5,84.7 632.0,85.6 633.5,85.8 635.0,86.0 636.5,86.1 638.0,86.2 639.5,86.3 641.0,86.4 642.5,86.6 644.0,86.7 645.5,86.8 647.0,87.0 648.5,87.1 650.0,87.3 651.5,87.4 653.0,87.5 654.5,87.6 656.0,87.6 657.5,87.6 659.0,87.6 660.5,87.5 662.0,87.5 663.5,87.4 665.0,87.4 666.5,87.3 668.0,87.2 669.5,87.1 671.0,87.0 672.5,86.9 674.0,86.7 675.5,86.4 677.0,86.2 678.5,86.0 680.0,85.9 681.5,85.8 683.0,85.7 684.5,85.8 686.0,86.0 687.5,86.3 689.0,86.6 690.5,86.9 692.0,87.2 693.5,87.3 695.0,87.4 696.5,87.6 698.0,87.6 699.5,87.7 701.0,87.7 702.5,87.8 704.0,87.8 705.5,87.8 707.0,87.9 708.5,87.9 710.0,87.9 711.5,87.9 713.0,87.9 714.5,88.0 716.0,88.0 717.5,88.0 719.0,88.0 720.5,88.0 722.0,88.0 723.5,88.1 725.0,88.1 726.5,88.1 728.0,88.1 729.5,88.1 731.0,88.1 732.5,88.1 734.0,88.1 735.5,88.1 737.0,88.1 738.5,88.1 740.0,88.1 741.5,88.1 743.0,88.0 744.5,88.0 746.0,88.0 747.5,88.0 749.0,87.9 750.5,87.9 752.0,87.8 753.5,87.7 755.0,87.5 756.5,87.2 758.0,86.4 759.5,85.5 761.0,84.3 762.5,83.0 764.0,81.7" stroke="#96cdc3"/><path d="M441.5,83.1 443.0,82.9 444.5,82.7 446.0,82.6 447.5,82.4 449.0,82.2 450.5,82.0 452.0,81.8 453.5,81.6 455.0,81.4 456.5,81.3 458.0,81.1 459.5,80.9 461.0,80.7 462.5,80.5 464.0,80.4 465.5,80.3 467.0,80.2 468.5,80.1 470.0,80.0 471.5,79.8 473.0,79.6 474.5,79.2 476.0,78.8 477.5,78.3 479.0,77.7 480.5,76.7 482.0,75.2 483.5,72.9 485.0,70.1 486.5,66.4 488.0,61.7 489.5,56.1 491.0,50.5 492.5,45.8 494.0,43.5 495.5,43.0 497.0,41.7 498.5,38.8 500.0,38.2 501.5,40.6 503.0,44.7 504.5,48.6 506.0,52.5 507.5,56.4 509.0,60.0 510.5,63.1 512.0,65.8 513.5,67.3 515.0,66.9 516.5,66.1 518.0,66.1 519.5,67.0 521.0,68.4 522.5,70.5 524.0,73.3 525.5,76.3 527.0,79.1 528.5,81.6 530.0,83.9 531.5,86.0 533.0,87.9 534.5,89.6 536.0,90.7 537.5,91.3 539.0,91.4 540.5,91.1 542.0,90.5 543.5,89.7 545.0,88.7 546.5,88.0 548.0,87.4 549.5,86.7 551.0,86.1 552.5,85.6 554.0,85.1 555.5,84.6 557.0,84.3 558.5,84.0 560.0,83.8 561.5,83.7 563.0,83.6 564.5,83.5 566.0,83.5 567.5,83.6 569.0,83.7 570.5,83.8 572.0,83.9 573.5,84.1 575.0,84.3 576.5,84.4 578.0,84.5 579.5,84.6 581.0,84.7 582.5,84.7 584.0,84.8 585.5,84.9 587.0,85.0 588.5,85.1 590.0,85.2 591.5,85.3 593.0,85.4 594.5,85.4 596.0,85.5 597.5,85.5 599.0,85.6 600.5,85.6 602.0,85.6 603.5,85.6 605.0,85.6 606.5,85.6 608.0,85.5 609.5,85.3 611.0,84.7 612.5,84.2 614.0,83.2 615.5,81.7 617.0,78.9 618.5,74.0 620.0,67.0 621.5,59.8 623.0,56.7 624.5,61.5 626.0,69.1 627.5,75.6 629.0,80.4 630.5,83.2 632.0,84.6 633.5,85.1 635.0,85.3 636.5,85.5 638.0,85.6 639.5,85.7 641.0,85.9 642.5,86.0 644.0,86.1 645.5,86.3 647.0,86.4 648.5,86.5 650.0,86.7 651.5,86.8 653.0,86.9 654.5,86.9 656.0,86.9 657.5,86.9 659.0,86.9 660.5,86.8 662.0,86.8 663.5,86.7 665.0,86.6 666.5,86.6 668.0,86.5 669.5,86.3 671.0,86.2 672.5,86.0 674.0,85.8 675.5,85.5 677.0,85.3 678.5,85.1 680.0,84.9 681.5,84.7 683.0,84.7 684.5,84.8 686.0,85.0 687.5,85.3 689.0,85.7 690.5,86.0 692.0,86.2 693.5,86.4 695.0,86.5 696.5,86.6 698.0,86.7 699.5,86.8 701.0,86.8 702.5,86.9 704.0,86.9 705.5,86.9 707.0,86.9 708.5,87.0 710.0,87.0 711.5,87.0 713.0,87.0 714.5,87.1 716.0,87.1 717.5,87.1 719.0,87.1 720.5,87.1 722.0,87.1 723.5,87.2 725.0,87.2 726.5,87.2 728.0,87.2 729.5,87.2 731.0,87.2 732.5,87.2 734.0,87.2 735.5,87.2 737.0,87.2 738.5,87.2 740.0,87.2 741.5,87.2 743.0,87.2 744.5,87.2 746.0,87.1 747.5,87.1 749.0,87.1 750.5,87.0 752.0,87.0 753.5,86.9 755.0,86.7 756.5,86.4 758.0,85.7 759.5,84.8 761.0,83.6 762.5,82.3 764.0,81.0" stroke="#4bb4b0"/><path d="M441.5,82.9 443.0,82.7 444.5,82.5 446.0,82.3 447.5,82.1 449.0,81.9 450.5,81.7 452.0,81.5 453.5,81.3 455.0,81.1 456.5,80.9 458.0,80.7 459.5,80.5 461.0,80.3 462.5,80.2 464.0,80.0 465.5,79.9 467.0,79.8 468.5,79.6 470.0,79.5 471.5,79.3 473.0,79.0 474.5,78.6 476.0,78.1 477.5,77.6 479.0,76.9 480.5,75.9 482.0,74.3 483.5,71.9 485.0,69.0 486.5,65.2 488.0,60.3 489.5,54.6 491.0,48.6 492.5,43.8 494.0,41.7 495.5,41.2 497.0,39.6 498.5,36.6 500.0,35.9 501.5,38.3 503.0,42.4 504.5,46.3 506.0,50.2 507.5,54.0 509.0,57.6 510.5,60.7 512.0,63.4 513.5,65.0 515.0,64.7 516.5,63.9 518.0,63.8 519.5,64.6 521.0,66.0 522.5,68.0 524.0,70.8 525.5,73.9 527.0,76.7 528.5,79.3 530.0,81.6 531.5,83.8 533.0,85.7 534.5,87.4 536.0,88.6 537.5,89.2 539.0,89.3 540.5,89.1 542.0,88.7 543.5,88.0 545.0,87.2 546.5,86.6 548.0,86.1 549.5,85.6 551.0,85.1 552.5,84.7 554.0,84.3 555.5,83.9 557.0,83.6 558.5,83.4 560.0,83.3 561.5,83.2 563.0,83.2 564.5,83.1 566.0,83.2 567.5,83.2 569.0,83.3 570.5,83.4 572.0,83.6 573.5,83.7 575.0,83.9 576.5,84.0 578.0,84.1 579.5,84.2 581.0,84.2 582.5,84.3 584.0,84.4 585.5,84.5 587.0,84.5 588.5,84.6 590.0,84.7 591.5,84.8 593.0,84.9 594.5,84.9 596.0,85.0 597.5,85.0 599.0,85.0 600.5,85.1 602.0,85.1 603.5,85.1 605.0,85.1 606.5,85.0 608.0,85.0 609.5,84.7 611.0,84.0 612.5,83.3 614.0,82.2 615.5,80.4 617.0,77.3 618.5,71.6 620.0,63.6 621.5,55.9 623.0,52.6 624.5,57.1 626.0,65.3 627.5,73.0 629.0,78.8 630.5,82.2 632.0,83.9 633.5,84.5 635.0,84.8 636.5,85.0 638.0,85.1 639.5,85.3 641.0,85.4 642.5,85.5 644.0,85.6 645.5,85.8 647.0,85.9 648.5,86.0 650.0,86.1 651.5,86.2 653.0,86.3 654.5,86.4 656.0,86.4 657.5,86.3 659.0,86.3 660.5,86.2 662.0,86.2 663.5,86.1 665.0,86.0 666.5,85.9 668.0,85.8 669.5,85.6 671.0,85.5 672.5,85.3 674.0,85.0 675.5,84.7 677.0,84.5 678.5,84.2 680.0,84.0 681.5,83.8 683.0,83.8 684.5,83.9 686.0,84.1 687.5,84.4 689.0,84.8 690.5,85.1 692.0,85.4 693.5,85.5 695.0,85.7 696.5,85.8 698.0,85.9 699.5,86.0 701.0,86.0 702.5,86.0 704.0,86.1 705.5,86.1 707.0,86.1 708.5,86.2 710.0,86.2 711.5,86.2 713.0,86.2 714.5,86.3 716.0,86.3 717.5,86.3 719.0,86.3 720.5,86.3 722.0,86.4 723.5,86.4 725.0,86.4 726.5,86.4 728.0,86.4 729.5,86.4 731.0,86.4 732.5,86.4 734.0,86.4 735.5,86.4 737.0,86.4 738.5,86.4 740.0,86.4 741.5,86.4 743.0,86.4 744.5,86.4 746.0,86.4 747.5,86.4 749.0,86.3 750.5,86.3 752.0,86.2 753.5,86.1 755.0,86.0 756.5,85.7 758.0,85.0 759.5,84.1 761.0,83.0 762.5,81.7 764.0,80.4" stroke="#2ea4a4"/><path d="M441.5,82.7 443.0,82.5 444.5,82.3 446.0,82.1 447.5,81.9 449.0,81.7 450.5,81.5 452.0,81.3 453.5,81.1 455.0,80.9 456.5,80.7 458.0,80.5 459.5,80.3 461.0,80.1 462.5,79.9 464.0,79.7 465.5,79.5 467.0,79.4 468.5,79.2 470.0,79.1 471.5,78.8 473.0,78.5 474.5,78.1 476.0,77.5 477.5,76.9 479.0,76.2 480.5,75.2 482.0,73.5 483.5,71.0 485.0,67.9 486.5,64.0 488.0,59.0 489.5,53.1 491.0,46.9 492.5,41.9 494.0,39.9 495.5,39.5 497.0,37.7 498.5,34.6 500.0,33.8 501.5,36.1 503.0,40.2 504.5,44.2 506.0,48.0 507.5,51.7 509.0,55.3 510.5,58.5 512.0,61.2 513.5,62.9 515.0,62.6 516.5,61.8 518.0,61.7 519.5,62.3 521.0,63.6 522.5,65.6 524.0,68.4 525.5,71.5 527.0,74.4 528.5,77.1 530.0,79.5 531.5,81.7 533.0,83.7 534.5,85.4 536.0,86.6 537.5,87.2 539.0,87.4 540.5,87.3 542.0,87.0 543.5,86.4 545.0,85.8 546.5,85.4 548.0,85.0 549.5,84.6 551.0,84.2 552.5,83.9 554.0,83.5 555.5,83.3 557.0,83.1 558.5,82.9 560.0,82.8 561.5,82.8 563.0,82.8 564.5,82.8 566.0,82.8 567.5,82.9 569.0,83.0 570.5,83.1 572.0,83.2 573.5,83.4 575.0,83.5 576.5,83.6 578.0,83.7 579.5,83.8 581.0,83.8 582.5,83.9 584.0,84.0 585.5,84.0 587.0,84.1 588.5,84.2 590.0,84.3 591.5,84.3 593.0,84.4 594.5,84.5 596.0,84.5 597.5,84.6 599.0,84.6 600.5,84.6 602.0,84.6 603.5,84.6 605.0,84.6 606.5,84.6 608.0,84.5 609.5,84.2 611.0,83.6 612.5,82.9 614.0,81.8 615.5,79.9 617.0,76.7 618.5,71.1 620.0,63.0 621.5,55.3 623.0,52.0 624.5,56.5 626.0,64.7 627.5,72.5 629.0,78.3 630.5,81.8 632.0,83.5 633.5,84.0 635.0,84.3 636.5,84.6 638.0,84.7 639.5,84.8 641.0,85.0 642.5,85.1 644.0,85.2 645.5,85.3 647.0,85.5 648.5,85.6 650.0,85.7 651.5,85.8 653.0,85.8 654.5,85.9 656.0,85.8 657.5,85.8 659.0,85.8 660.5,85.7 662.0,85.6 663.5,85.5 665.0,85.4 666.5,85.3 668.0,85.2 669.5,85.0 671.0,84.8 672.5,84.6 674.0,84.3 675.5,84.0 677.0,83.7 678.5,83.5 680.0,83.2 681.5,83.1 683.0,83.0 684.5,83.1 686.0,83.3 687.5,83.7 689.0,84.0 690.5,84.4 692.0,84.6 693.5,84.8 695.0,85.0 696.5,85.1 698.0,85.2 699.5,85.2 701.0,85.3 702.5,85.3 704.0,85.4 705.5,85.4 707.0,85.5 708.5,85.5 710.0,85.5 711.5,85.5 713.0,85.6 714.5,85.6 716.0,85.6 717.5,85.6 719.0,85.6 720.5,85.6 722.0,85.7 723.5,85.7 725.0,85.7 726.5,85.7 728.0,85.7 729.5,85.7 731.0,85.7 732.5,85.7 734.0,85.7 735.5,85.7 737.0,85.7 738.5,85.7 740.0,85.7 741.5,85.7 743.0,85.7 744.5,85.7 746.0,85.7 747.5,85.7 749.0,85.7 750.5,85.6 752.0,85.6 753.5,85.5 755.0,85.4 756.5,85.1 758.0,84.4 759.5,83.6 761.0,82.5 762.5,81.2 764.0,79.9" stroke="#1b959b"/><path d="M441.5,82.6 443.0,82.4 444.5,82.2 446.0,82.0 447.5,81.8 449.0,81.5 450.5,81.3 452.0,81.1 453.5,80.9 455.0,80.7 456.5,80.5 458.0,80.3 459.5,80.1 461.0,79.9 462.5,79.7 464.0,79.5 465.5,79.3 467.0,79.1 468.5,79.0 470.0,78.7 471.5,78.5 473.0,78.1 474.5,77.7 476.0,77.1 477.5,76.4 479.0,75.6 480.5,74.6 482.0,72.8 483.5,70.1 485.0,66.9 486.5,62.8 488.0,57.8 489.5,51.7 491.0,45.3 492.5,40.1 494.0,38.2 495.5,37.9 497.0,35.9 498.5,32.7 500.0,31.8 501.5,34.0 503.0,38.2 504.5,42.1 506.0,45.9 507.5,49.6 509.0,53.2 510.5,56.3 512.0,59.1 513.5,60.9 515.0,60.6 516.5,59.9 518.0,59.7 519.5,60.2 521.0,61.4 522.5,63.4 524.0,66.2 525.5,69.4 527.0,72.3 528.5,75.0 530.0,77.5 531.5,79.7 533.0,81.8 534.5,83.6 536.0,84.8 537.5,85.4 539.0,85.7 540.5,85.6 542.0,85.4 543.5,85.0 545.0,84.6 546.5,84.2 548.0,83.9 549.5,83.6 551.0,83.4 552.5,83.1 554.0,82.9 555.5,82.7 557.0,82.5 558.5,82.5 560.0,82.4 561.5,82.4 563.0,82.4 564.5,82.5 566.0,82.6 567.5,82.7 569.0,82.8 570.5,82.9 572.0,83.0 573.5,83.1 575.0,83.2 576.5,83.3 578.0,83.4 579.5,83.4 581.0,83.5 582.5,83.5 584.0,83.6 585.5,83.7 587.0,83.8 588.5,83.8 590.0,83.9 591.5,84.0 593.0,84.0 594.5,84.1 596.0,84.1 597.5,84.2 599.0,84.2 600.5,84.2 602.0,84.2 603.5,84.2 605.0,84.2 606.5,84.2 608.0,84.1 609.5,83.8 611.0,83.2 612.5,82.5 614.0,81.4 615.5,79.5 617.0,76.4 618.5,70.7 620.0,62.7 621.5,54.9 623.0,51.6 624.5,56.1 626.0,64.3 627.5,72.1 629.0,78.0 630.5,81.4 632.0,83.1 633.5,83.7 635.0,84.0 636.5,84.2 638.0,84.3 639.5,84.5 641.0,84.6 642.5,84.7 644.0,84.8 645.5,85.0 647.0,85.1 648.5,85.2 650.0,85.3 651.5,85.4 653.0,85.4 654.5,85.4 656.0,85.4 657.5,85.4 659.0,85.3 660.5,85.2 662.0,85.1 663.5,85.0 665.0,84.9 666.5,84.8 668.0,84.7 669.5,84.5 671.0,84.3 672.5,84.1 674.0,83.8 675.5,83.5 677.0,83.1 678.5,82.8 680.0,82.6 681.5,82.4 683.0,82.3 684.5,82.4 686.0,82.7 687.5,83.0 689.0,83.4 690.5,83.8 692.0,84.0 693.5,84.2 695.0,84.4 696.5,84.5 698.0,84.6 699.5,84.7 701.0,84.7 702.5,84.8 704.0,84.8 705.5,84.8 707.0,84.9 708.5,84.9 710.0,84.9 711.5,84.9 713.0,85.0 714.5,85.0 716.0,85.0 717.5,85.0 719.0,85.0 720.5,85.1 722.0,85.1 723.5,85.1 725.0,85.1 726.5,85.1 728.0,85.1 729.5,85.1 731.0,85.1 732.5,85.2 734.0,85.2 735.5,85.2 737.0,85.2 738.5,85.2 740.0,85.2 741.5,85.2 743.0,85.2 744.5,85.2 746.0,85.2 747.5,85.1 749.0,85.1 750.5,85.1 752.0,85.0 753.5,85.0 755.0,84.9 756.5,84.6 758.0,83.9 759.5,83.1 761.0,82.0 762.5,80.8 764.0,79.5" stroke="#148896"/><path d="M441.5,82.6 443.0,82.3 444.5,82.1 446.0,81.9 447.5,81.7 449.0,81.5 450.5,81.2 452.0,81.0 453.5,80.8 455.0,80.6 456.5,80.4 458.0,80.2 459.5,80.0 461.0,79.8 462.5,79.6 464.0,79.4 465.5,79.2 467.0,79.0 468.5,78.8 470.0,78.5 471.5,78.2 473.0,77.8 474.5,77.3 476.0,76.7 477.5,76.0 479.0,75.2 480.5,74.1 482.0,72.2 483.5,69.4 485.0,66.1 486.5,61.8 488.0,56.7 489.5,50.4 491.0,43.8 492.5,38.5 494.0,36.7 495.5,36.5 497.0,34.3 498.5,31.0 500.0,29.9 501.5,32.1 503.0,36.3 504.5,40.3 506.0,44.0 507.5,47.7 509.0,51.2 510.5,54.4 512.0,57.1 513.5,59.0 515.0,58.8 516.5,58.1 518.0,57.8 519.5,58.3 521.0,59.4 522.5,61.4 524.0,64.2 525.5,67.4 527.0,70.3 528.5,73.1 530.0,75.6 531.5,78.0 533.0,80.0 534.5,81.9 536.0,83.2 537.5,83.8 539.0,84.1 540.5,84.1 542.0,84.0 543.5,83.8 545.0,83.4 546.5,83.2 548.0,83.0 549.5,82.8 551.0,82.6 552.5,82.5 554.0,82.3 555.5,82.2 557.0,82.1 558.5,82.0 560.0,82.1 561.5,82.1 563.0,82.1 564.5,82.2 566.0,82.3 567.5,82.4 569.0,82.5 570.5,82.6 572.0,82.7 573.5,82.8 575.0,82.9 576.5,83.0 578.0,83.1 579.5,83.1 581.0,83.2 582.5,83.2 584.0,83.3 585.5,83.4 587.0,83.4 588.5,83.5 590.0,83.6 591.5,83.6 593.0,83.7 594.5,83.7 596.0,83.8 597.5,83.8 599.0,83.9 600.5,83.9 602.0,83.9 603.5,83.9 605.0,83.9 606.5,83.9 608.0,83.8 609.5,83.5 611.0,82.9 612.5,82.2 614.0,81.1 615.5,79.2 617.0,76.1 618.5,70.4 620.0,62.3 621.5,54.6 623.0,51.3 624.5,55.8 626.0,64.0 627.5,71.8 629.0,77.7 630.5,81.1 632.0,82.8 633.5,83.4 635.0,83.7 636.5,83.9 638.0,84.0 639.5,84.2 641.0,84.3 642.5,84.4 644.0,84.6 645.5,84.7 647.0,84.8 648.5,84.9 650.0,85.0 651.5,85.1 653.0,85.1 654.5,85.1 656.0,85.1 657.5,85.0 659.0,84.9 660.5,84.9 662.0,84.8 663.5,84.7 665.0,84.5 666.5,84.4 668.0,84.3 669.5,84.1 671.0,83.9 672.5,83.6 674.0,83.3 675.5,83.0 677.0,82.6 678.5,82.3 680.0,82.1 681.5,81.9 683.0,81.8 684.5,81.9 686.0,82.1 687.5,82.5 689.0,82.9 690.5,83.2 692.0,83.5 693.5,83.7 695.0,83.9 696.5,84.0 698.0,84.1 699.5,84.2 701.0,84.2 702.5,84.3 704.0,84.3 705.5,84.4 707.0,84.4 708.5,84.4 710.0,84.4 711.5,84.5 713.0,84.5 714.5,84.5 716.0,84.5 717.5,84.6 719.0,84.6 720.5,84.6 722.0,84.6 723.5,84.6 725.0,84.6 726.5,84.6 728.0,84.7 729.5,84.7 731.0,84.7 732.5,84.7 734.0,84.7 735.5,84.7 737.0,84.7 738.5,84.7 740.0,84.7 741.5,84.7 743.0,84.7 744.5,84.7 746.0,84.7 747.5,84.7 749.0,84.7 750.5,84.6 752.0,84.6 753.5,84.5 755.0,84.4 756.5,84.2 758.0,83.5 759.5,82.8 761.0,81.6 762.5,80.4 764.0,79.1" stroke="#127c94"/><path d="M441.5,82.5 443.0,82.3 444.5,82.1 446.0,81.9 447.5,81.6 449.0,81.4 450.5,81.2 452.0,81.0 453.5,80.8 455.0,80.5 456.5,80.3 458.0,80.1 459.5,79.9 461.0,79.7 462.5,79.5 464.0,79.3 465.5,79.1 467.0,78.9 468.5,78.6 470.0,78.4 471.5,78.1 473.0,77.7 474.5,77.1 476.0,76.4 477.5,75.7 479.0,74.8 480.5,73.7 482.0,71.7 483.5,68.8 485.0,65.3 486.5,60.9 488.0,55.6 489.5,49.2 491.0,42.4 492.5,37.0 494.0,35.3 495.5,35.2 497.0,32.8 498.5,29.4 500.0,28.3 501.5,30.4 503.0,34.6 504.5,38.6 506.0,42.3 507.5,45.9 509.0,49.4 510.5,52.6 512.0,55.4 513.5,57.3 515.0,57.2 516.5,56.4 518.0,56.1 519.5,56.5 521.0,57.6 522.5,59.5 524.0,62.3 525.5,65.5 527.0,68.6 528.5,71.4 530.0,74.0 531.5,76.4 533.0,78.5 534.5,80.4 536.0,81.7 537.5,82.4 539.0,82.7 540.5,82.8 542.0,82.8 543.5,82.7 545.0,82.5 546.5,82.3 548.0,82.2 549.5,82.1 551.0,82.0 552.5,81.9 554.0,81.8 555.5,81.7 557.0,81.7 558.5,81.7 560.0,81.7 561.5,81.8 563.0,81.9 564.5,82.0 566.0,82.1 567.5,82.2 569.0,82.3 570.5,82.4 572.0,82.5 573.5,82.6 575.0,82.7 576.5,82.8 578.0,82.9 579.5,82.9 581.0,82.9 582.5,83.0 584.0,83.0 585.5,83.1 587.0,83.2 588.5,83.2 590.0,83.3 591.5,83.4 593.0,83.4 594.5,83.5 596.0,83.5 597.5,83.6 599.0,83.6 600.5,83.6 602.0,83.6 603.5,83.6 605.0,83.6 606.5,83.6 608.0,83.5 609.5,83.3 611.0,82.6 612.5,81.9 614.0,80.8 615.5,79.0 617.0,75.8 618.5,70.1 620.0,62.1 621.5,54.4 623.0,51.1 624.5,55.6 626.0,63.8 627.5,71.6 629.0,77.4 630.5,80.8 632.0,82.6 633.5,83.1 635.0,83.4 636.5,83.7 638.0,83.8 639.5,84.0 641.0,84.1 642.5,84.2 644.0,84.3 645.5,84.5 647.0,84.6 648.5,84.7 650.0,84.7 651.5,84.8 653.0,84.8 654.5,84.8 656.0,84.8 657.5,84.7 659.0,84.7 660.5,84.6 662.0,84.5 663.5,84.4 665.0,84.2 666.5,84.1 668.0,83.9 669.5,83.7 671.0,83.5 672.5,83.3 674.0,82.9 675.5,82.6 677.0,82.2 678.5,81.9 680.0,81.6 681.5,81.4 683.0,81.4 684.5,81.4 686.0,81.7 687.5,82.1 689.0,82.5 690.5,82.8 692.0,83.1 693.5,83.3 695.0,83.5 696.5,83.6 698.0,83.7 699.5,83.8 701.0,83.8 702.5,83.9 704.0,83.9 705.5,84.0 707.0,84.0 708.5,84.0 710.0,84.1 711.5,84.1 713.0,84.1 714.5,84.1 716.0,84.2 717.5,84.2 719.0,84.2 720.5,84.2 722.0,84.2 723.5,84.2 725.0,84.3 726.5,84.3 728.0,84.3 729.5,84.3 731.0,84.3 732.5,84.3 734.0,84.3 735.5,84.3 737.0,84.3 738.5,84.3 740.0,84.3 741.5,84.4 743.0,84.4 744.5,84.3 746.0,84.3 747.5,84.3 749.0,84.3 750.5,84.3 752.0,84.3 753.5,84.2 755.0,84.1 756.5,83.9 758.0,83.2 759.5,82.5 761.0,81.4 762.5,80.2 764.0,78.9" stroke="#107091"/><path d="M441.5,82.5 443.0,82.3 444.5,82.1 446.0,81.8 447.5,81.6 449.0,81.4 450.5,81.2 452.0,81.0 453.5,80.7 455.0,80.5 456.5,80.3 458.0,80.1 459.5,79.9 461.0,79.7 462.5,79.5 464.0,79.3 465.5,79.0 467.0,78.8 468.5,78.6 470.0,78.3 471.5,78.0 473.0,77.5 474.5,77.0 476.0,76.3 477.5,75.5 479.0,74.6 480.5,73.4 482.0,71.3 483.5,68.3 485.0,64.6 486.5,60.1 488.0,54.7 489.5,48.2 491.0,41.2 492.5,35.7 494.0,34.1 495.5,34.0 497.0,31.5 498.5,28.0 500.0,26.8 501.5,28.9 503.0,33.1 504.5,37.1 506.0,40.8 507.5,44.4 509.0,47.9 510.5,51.0 512.0,53.8 513.5,55.8 515.0,55.8 516.5,55.0 518.0,54.6 519.5,55.0 521.0,56.0 522.5,57.9 524.0,60.7 525.5,64.0 527.0,67.0 528.5,69.9 530.0,72.5 531.5,75.0 533.0,77.1 534.5,79.2 536.0,80.5 537.5,81.2 539.0,81.6 540.5,81.8 542.0,81.8 543.5,81.8 545.0,81.7 546.5,81.6 548.0,81.6 549.5,81.5 551.0,81.5 552.5,81.4 554.0,81.4 555.5,81.4 557.0,81.4 558.5,81.4 560.0,81.5 561.5,81.6 563.0,81.7 564.5,81.8 566.0,81.9 567.5,82.0 569.0,82.2 570.5,82.3 572.0,82.3 573.5,82.4 575.0,82.5 576.5,82.6 578.0,82.7 579.5,82.7 581.0,82.7 582.5,82.8 584.0,82.8 585.5,82.9 587.0,83.0 588.5,83.0 590.0,83.1 591.5,83.2 593.0,83.2 594.5,83.3 596.0,83.3 597.5,83.4 599.0,83.4 600.5,83.4 602.0,83.4 603.5,83.5 605.0,83.5 606.5,83.4 608.0,83.4 609.5,83.1 611.0,82.4 612.5,81.7 614.0,80.7 615.5,78.8 617.0,75.6 618.5,70.0 620.0,61.9 621.5,54.2 623.0,50.9 624.5,55.4 626.0,63.6 627.5,71.4 629.0,77.2 630.5,80.7 632.0,82.4 633.5,83.0 635.0,83.3 636.5,83.5 638.0,83.7 639.5,83.8 641.0,83.9 642.5,84.0 644.0,84.2 645.5,84.3 647.0,84.4 648.5,84.5 650.0,84.6 651.5,84.6 653.0,84.6 654.5,84.6 656.0,84.6 657.5,84.5 659.0,84.5 660.5,84.4 662.0,84.3 663.5,84.1 665.0,84.0 666.5,83.9 668.0,83.7 669.5,83.5 671.0,83.3 672.5,83.0 674.0,82.7 675.5,82.3 677.0,82.0 678.5,81.6 680.0,81.4 681.5,81.1 683.0,81.0 684.5,81.1 686.0,81.4 687.5,81.8 689.0,82.2 690.5,82.6 692.0,82.8 693.5,83.0 695.0,83.2 696.5,83.3 698.0,83.4 699.5,83.5 701.0,83.6 702.5,83.6 704.0,83.7 705.5,83.7 707.0,83.7 708.5,83.8 710.0,83.8 711.5,83.8 713.0,83.9 714.5,83.9 716.0,83.9 717.5,83.9 719.0,83.9 720.5,84.0 722.0,84.0 723.5,84.0 725.0,84.0 726.5,84.0 728.0,84.0 729.5,84.0 731.0,84.0 732.5,84.1 734.0,84.1 735.5,84.1 737.0,84.1 738.5,84.1 740.0,84.1 741.5,84.1 743.0,84.1 744.5,84.1 746.0,84.1 747.5,84.1 749.0,84.1 750.5,84.0 752.0,84.0 753.5,84.0 755.0,83.9 756.5,83.7 758.0,83.0 759.5,82.3 761.0,81.2 762.5,80.0 764.0,78.7" stroke="#0f668c"/><path d="M441.5,82.5 443.0,82.3 444.5,82.1 446.0,81.8 447.5,81.6 449.0,81.4 450.5,81.2 452.0,80.9 453.5,80.7 455.0,80.5 456.5,80.3 458.0,80.1 459.5,79.9 461.0,79.7 462.5,79.5 464.0,79.3 465.5,79.0 467.0,78.8 468.5,78.6 470.0,78.3 471.5,77.9 473.0,77.5 474.5,76.9 476.0,76.2 477.5,75.3 479.0,74.4 480.5,73.2 482.0,71.1 483.5,67.9 485.0,64.1 486.5,59.4 488.0,54.0 489.5,47.3 491.0,40.3 492.5,34.6 494.0,33.1 495.5,33.1 497.0,30.4 498.5,26.9 500.0,25.6 501.5,27.7 503.0,31.9 504.5,35.9 506.0,39.6 507.5,43.1 509.0,46.6 510.5,49.8 512.0,52.6 513.5,54.6 515.0,54.6 516.5,53.9 518.0,53.4 519.5,53.7 521.0,54.7 522.5,56.6 524.0,59.4 525.5,62.7 527.0,65.8 528.5,68.7 530.0,71.4 531.5,73.9 533.0,76.1 534.5,78.2 536.0,79.5 537.5,80.3 539.0,80.7 540.5,80.9 542.0,81.1 543.5,81.1 545.0,81.1 546.5,81.1 548.0,81.1 549.5,81.1 551.0,81.1 552.5,81.1 554.0,81.1 555.5,81.1 557.0,81.2 558.5,81.2 560.0,81.3 561.5,81.4 563.0,81.5 564.5,81.7 566.0,81.8 567.5,81.9 569.0,82.1 570.5,82.2 572.0,82.2 573.5,82.3 575.0,82.4 576.5,82.5 578.0,82.5 579.5,82.6 581.0,82.6 582.5,82.6 584.0,82.7 585.5,82.8 587.0,82.9 588.5,82.9 590.0,83.0 591.5,83.0 593.0,83.1 594.5,83.1 596.0,83.2 597.5,83.2 599.0,83.3 600.5,83.3 602.0,83.3 603.5,83.3 605.0,83.3 606.5,83.3 608.0,83.2 609.5,83.0 611.0,82.3 612.5,81.6 614.0,80.5 615.5,78.7 617.0,75.5 618.5,69.9 620.0,61.8 621.5,54.1 623.0,50.8 624.5,55.3 626.0,63.5 627.5,71.3 629.0,77.1 630.5,80.6 632.0,82.3 633.5,82.9 635.0,83.2 636.5,83.4 638.0,83.6 639.5,83.7 641.0,83.8 642.5,83.9 644.0,84.1 645.5,84.2 647.0,84.3 648.5,84.4 650.0,84.5 651.5,84.5 653.0,84.5 654.5,84.5 656.0,84.5 657.5,84.4 659.0,84.3 660.5,84.2 662.0,84.1 663.5,84.0 665.0,83.9 666.5,83.7 668.0,83.6 669.5,83.4 671.0,83.1 672.5,82.9 674.0,82.5 675.5,82.2 677.0,81.8 678.5,81.5 680.0,81.2 681.5,81.0 683.0,80.9 684.5,80.9 686.0,81.2 687.5,81.6 689.0,82.0 690.5,82.4 692.0,82.7 693.5,82.9 695.0,83.0 696.5,83.2 698.0,83.3 699.5,83.4 701.0,83.4 702.5,83.5 704.0,83.5 705.5,83.6 707.0,83.6 708.5,83.6 710.0,83.6 711.5,83.7 713.0,83.7 714.5,83.7 716.0,83.7 717.5,83.8 719.0,83.8 720.5,83.8 722.0,83.8 723.5,83.8 725.0,83.8 726.5,83.8 728.0,83.9 729.5,83.9 731.0,83.9 732.5,83.9 734.0,83.9 735.5,83.9 737.0,83.9 738.5,83.9 740.0,83.9 741.5,83.9 743.0,83.9 744.5,83.9 746.0,83.9 747.5,83.9 749.0,83.9 750.5,83.9 752.0,83.9 753.5,83.8 755.0,83.7 756.5,83.5 758.0,82.8 759.5,82.1 761.0,81.0 762.5,79.8 764.0,78.6" stroke="#0f5c87"/><path d="M441.5,82.5 443.0,82.3 444.5,82.1 446.0,81.8 447.5,81.6 449.0,81.4 450.5,81.2 452.0,80.9 453.5,80.7 455.0,80.5 456.5,80.3 458.0,80.1 459.5,79.9 461.0,79.7 462.5,79.5 464.0,79.3 465.5,79.0 467.0,78.8 468.5,78.6 470.0,78.3 471.5,77.9 473.0,77.5 474.5,76.9 476.0,76.2 477.5,75.3 479.0,74.4 480.5,73.1 482.0,70.9 483.5,67.7 485.0,63.8 486.5,59.0 488.0,53.6 489.5,46.8 491.0,39.7 492.5,34.0 494.0,32.5 495.5,32.5 497.0,29.8 498.5,26.2 500.0,24.9 501.5,27.0 503.0,31.2 504.5,35.2 506.0,38.8 507.5,42.4 509.0,45.8 510.5,49.0 512.0,51.8 513.5,53.9 515.0,53.9 516.5,53.1 518.0,52.7 519.5,53.0 521.0,53.9 522.5,55.8 524.0,58.6 525.5,61.9 527.0,65.0 528.5,67.9 530.0,70.7 531.5,73.2 533.0,75.5 534.5,77.6 536.0,79.0 537.5,79.8 539.0,80.2 540.5,80.5 542.0,80.7 543.5,80.8 545.0,80.8 546.5,80.9 548.0,80.9 549.5,80.9 551.0,80.9 552.5,81.0 554.0,81.0 555.5,81.0 557.0,81.1 558.5,81.1 560.0,81.2 561.5,81.3 563.0,81.5 564.5,81.6 566.0,81.7 567.5,81.9 569.0,82.0 570.5,82.1 572.0,82.2 573.5,82.3 575.0,82.3 576.5,82.4 578.0,82.5 579.5,82.5 581.0,82.5 582.5,82.6 584.0,82.7 585.5,82.7 587.0,82.8 588.5,82.9 590.0,82.9 591.5,83.0 593.0,83.0 594.5,83.1 596.0,83.1 597.5,83.2 599.0,83.2 600.5,83.3 602.0,83.3 603.5,83.3 605.0,83.3 606.5,83.3 608.0,83.2 609.5,83.0 611.0,82.3 612.5,81.6 614.0,80.5 615.5,78.7 617.0,75.5 618.5,69.8 620.0,61.8 621.5,54.1 623.0,50.7 624.5,55.3 626.0,63.5 627.5,71.3 629.0,77.1 630.5,80.5 632.0,82.3 633.5,82.8 635.0,83.1 636.5,83.4 638.0,83.5 639.5,83.7 641.0,83.8 642.5,83.9 644.0,84.0 645.5,84.2 647.0,84.3 648.5,84.4 650.0,84.4 651.5,84.5 653.0,84.5 654.5,84.5 656.0,84.4 657.5,84.4 659.0,84.3 660.5,84.2 662.0,84.1 663.5,84.0 665.0,83.8 666.5,83.7 668.0,83.5 669.5,83.3 671.0,83.1 672.5,82.8 674.0,82.5 675.5,82.1 677.0,81.8 678.5,81.4 680.0,81.1 681.5,80.9 683.0,80.8 684.5,80.9 686.0,81.1 687.5,81.5 689.0,82.0 690.5,82.3 692.0,82.6 693.5,82.8 695.0,83.0 696.5,83.1 698.0,83.2 699.5,83.3 701.0,83.4 702.5,83.4 704.0,83.5 705.5,83.5 707.0,83.5 708.5,83.6 710.0,83.6 711.5,83.6 713.0,83.6 714.5,83.7 716.0,83.7 717.5,83.7 719.0,83.7 720.5,83.7 722.0,83.8 723.5,83.8 725.0,83.8 726.5,83.8 728.0,83.8 729.5,83.8 731.0,83.8 732.5,83.8 734.0,83.9 735.5,83.9 737.0,83.9 738.5,83.9 740.0,83.9 741.5,83.9 743.0,83.9 744.5,83.9 746.0,83.9 747.5,83.9 749.0,83.9 750.5,83.8 752.0,83.8 753.5,83.8 755.0,83.7 756.5,83.5 758.0,82.8 759.5,82.1 761.0,81.0 762.5,79.8 764.0,78.5" stroke="#0e5282"/></g>
<path d="M536.0,73.0C536.3,73.8 537.1,76.0 537.6,77.8C538.1,79.6 538.7,81.4 539.3,83.8C539.9,86.2 540.5,89.6 541.0,92.4C541.5,95.2 541.8,98.4 542.3,100.5C542.8,102.6 543.4,104.6 544.0,105.0C544.6,105.4 545.2,104.0 546.0,103.0C546.8,102.0 547.1,101.0 548.7,99.2C550.3,97.4 553.2,94.1 555.5,92.4C557.8,90.7 560.1,89.6 562.4,88.9C564.7,88.2 566.7,87.9 569.2,88.1C571.8,88.2 574.9,89.3 577.7,89.8C580.6,90.3 583.4,90.5 586.3,90.9C589.1,91.3 591.9,91.8 594.8,92.0C597.6,92.2 600.4,92.3 603.4,92.4C606.4,92.5 610.4,92.6 612.7,92.4C615.0,92.2 615.8,91.9 617.0,91.0C618.2,90.1 619.1,89.0 620.0,87.0C620.9,85.0 621.8,79.3 622.5,79.0C623.2,78.7 623.7,83.1 624.3,85.0C624.9,86.9 625.0,89.3 626.0,90.5C627.0,91.7 628.0,91.9 630.0,92.2C632.0,92.5 635.2,92.1 638.0,92.2C640.8,92.3 644.2,92.7 647.0,93.1C649.8,93.5 652.3,94.1 655.0,94.4C657.7,94.7 660.3,94.8 663.0,94.9C665.7,95.1 668.2,95.2 671.0,95.3C673.8,95.4 677.2,95.4 680.0,95.6C682.8,95.8 685.3,96.0 688.0,96.2C690.7,96.4 691.5,96.6 696.0,96.7C700.5,96.8 709.8,96.9 715.0,96.9C720.2,97.0 722.8,97.0 727.0,97.0C731.2,97.0 735.8,96.9 740.0,96.8C744.2,96.7 749.2,96.5 752.0,96.2C754.8,95.9 755.6,95.5 757.0,94.8C758.4,94.1 759.0,93.1 760.3,92.0C761.6,90.9 763.9,88.7 764.6,88.0" fill="none" stroke="#ff7676" stroke-width="1.8" stroke-dasharray="4,4"/>
<path d="M441.5,82.3C443.4,82.0 449.1,81.2 453.0,80.7C456.9,80.2 461.8,79.5 465.0,79.0C468.2,78.5 470.0,78.1 472.0,77.4C474.0,76.7 475.4,75.9 477.0,75.0C478.6,74.1 480.2,73.2 481.5,71.8C482.8,70.4 483.7,68.5 484.6,66.5C485.5,64.5 486.4,62.2 487.0,60.0C487.6,57.8 487.8,55.9 488.5,53.5C489.2,51.1 490.2,48.1 491.0,45.5C491.8,42.9 492.8,39.8 493.5,38.0C494.2,36.2 494.9,35.6 495.5,35.0C496.1,34.4 496.4,35.2 497.0,34.5C497.6,33.8 498.4,31.8 499.0,31.0C499.6,30.2 499.8,29.7 500.3,29.8C500.8,29.9 501.4,30.6 502.0,31.5C502.6,32.5 503.2,33.8 504.0,35.5C504.8,37.2 505.9,39.3 507.0,41.5C508.1,43.7 509.5,46.6 510.5,48.5C511.5,50.4 512.2,51.9 513.0,52.8C513.8,53.7 514.7,53.8 515.5,53.8C516.3,53.8 517.2,52.8 518.0,52.8C518.8,52.8 519.7,52.9 520.5,53.5C521.3,54.1 522.1,55.0 523.0,56.3C523.9,57.6 524.8,59.6 526.0,61.5C527.2,63.4 528.8,66.1 530.0,67.8C531.2,69.5 532.3,70.5 533.5,71.4C534.7,72.3 535.8,72.7 537.0,73.2C538.2,73.7 538.9,74.1 541.0,74.6C543.1,75.1 546.7,75.3 549.5,76.0C552.3,76.7 554.2,77.6 558.0,78.5C561.8,79.4 567.2,80.6 572.0,81.2C576.8,81.8 581.3,82.0 587.0,82.3C592.7,82.6 602.0,82.9 606.0,82.8C610.0,82.7 609.6,82.3 611.0,81.8C612.4,81.2 613.5,80.6 614.5,79.5C615.5,78.4 616.2,77.1 617.0,75.0C617.8,72.9 618.4,69.8 619.0,67.0C619.6,64.2 620.0,60.8 620.6,58.0C621.2,55.2 621.9,51.0 622.5,50.3C623.1,49.5 623.6,51.4 624.2,53.5C624.8,55.6 625.4,59.8 626.0,63.0C626.6,66.2 627.3,70.3 628.0,73.0C628.7,75.7 629.2,77.5 630.0,79.0C630.8,80.5 630.7,81.5 633.0,82.2C635.3,83.0 640.4,83.2 643.7,83.5C647.0,83.8 649.8,84.0 652.8,84.0C655.8,84.0 658.9,83.8 661.9,83.6C664.9,83.4 667.5,83.1 671.0,82.6C674.5,82.0 679.3,80.4 682.8,80.3C686.3,80.2 688.7,81.7 691.9,82.1C695.1,82.5 696.1,82.7 702.0,82.9C707.9,83.1 718.5,83.2 727.0,83.3C735.5,83.4 747.5,83.5 752.7,83.3C757.9,83.1 756.6,82.8 758.0,82.3C759.4,81.8 759.9,81.3 761.0,80.5C762.1,79.7 764.0,78.0 764.6,77.5" fill="none" stroke="#e0101a" stroke-width="1.9" stroke-linejoin="round"/>
<g fill="none" stroke-width="1.10" stroke-linejoin="round"><path d="M441.5,173.8 443.0,173.9 444.5,174.1 446.0,174.2 447.5,174.3 449.0,174.5 450.5,174.7 452.0,174.8 453.5,175.0 455.0,175.2 456.5,175.4 458.0,175.7 459.5,176.0 461.0,176.3 462.5,176.6 464.0,177.0 465.5,177.5 467.0,177.9 468.5,178.4 470.0,179.0 471.5,179.5 473.0,180.1 474.5,180.9 476.0,181.7 477.5,182.7 479.0,183.8 480.5,184.9 482.0,186.0 483.5,186.9 485.0,187.8 486.5,189.0 488.0,191.3 489.5,193.1 491.0,192.7 492.5,189.0 494.0,183.0 495.5,176.5 497.0,168.6 498.5,161.3 500.0,154.9 501.5,149.3 503.0,145.2 504.5,142.4 506.0,140.9 507.5,140.5 509.0,140.6 510.5,140.0 512.0,139.4 513.5,139.9 515.0,141.4 516.5,143.3 518.0,147.0 519.5,146.8 521.0,144.6 522.5,142.7 524.0,141.4 525.5,140.2 527.0,139.5 528.5,139.2 530.0,140.0 531.5,142.6 533.0,146.9 534.5,151.6 536.0,156.9 537.5,162.0 539.0,166.2 540.5,169.7 542.0,172.5 543.5,174.7 545.0,175.3 546.5,175.9 548.0,176.5 549.5,177.3 551.0,177.6 552.5,177.4 554.0,177.1 555.5,176.7 557.0,176.2 558.5,175.6 560.0,175.1 561.5,174.5 563.0,173.9 564.5,173.2 566.0,172.6 567.5,171.9 569.0,171.3 570.5,170.7 572.0,170.1 573.5,169.5 575.0,168.9 576.5,168.4 578.0,167.9 579.5,167.4 581.0,167.1 582.5,166.8 584.0,166.5 585.5,166.3 587.0,166.2 588.5,166.0 590.0,165.9 591.5,165.8 593.0,165.7 594.5,165.6 596.0,165.5 597.5,165.5 599.0,165.5 600.5,165.5 602.0,165.6 603.5,165.6 605.0,165.8 606.5,166.0 608.0,166.2 609.5,166.5 611.0,166.9 612.5,167.5 614.0,168.2 615.5,169.6 617.0,171.5 618.5,172.3 620.0,172.1 621.5,171.2 623.0,169.5 624.5,167.0 626.0,162.2 627.5,153.5 629.0,151.8 630.5,156.7 632.0,161.3 633.5,162.6 635.0,162.8 636.5,162.7 638.0,162.6 639.5,162.5 641.0,162.3 642.5,162.1 644.0,161.9 645.5,161.8 647.0,161.7 648.5,161.6 650.0,161.6 651.5,161.6 653.0,161.7 654.5,161.8 656.0,161.8 657.5,162.0 659.0,162.1 660.5,162.3 662.0,162.5 663.5,162.6 665.0,162.6 666.5,162.5 668.0,162.4 669.5,162.3 671.0,162.2 672.5,162.2 674.0,162.3 675.5,162.4 677.0,162.7 678.5,162.9 680.0,163.1 681.5,163.1 683.0,163.1 684.5,163.1 686.0,163.1 687.5,163.1 689.0,163.2 690.5,163.2 692.0,163.3 693.5,163.3 695.0,163.4 696.5,163.4 698.0,163.5 699.5,163.5 701.0,163.6 702.5,163.6 704.0,163.7 705.5,163.7 707.0,163.8 708.5,163.9 710.0,164.0 711.5,164.0 713.0,164.1 714.5,164.2 716.0,164.3 717.5,164.4 719.0,164.4 720.5,164.5 722.0,164.6 723.5,164.6 725.0,164.7 726.5,164.7 728.0,164.8 729.5,164.8 731.0,164.9 732.5,164.9 734.0,165.0 735.5,165.0 737.0,165.0 738.5,165.1 740.0,165.2 741.5,165.2 743.0,165.3 744.5,165.4 746.0,165.5 747.5,165.6 749.0,165.7 750.5,165.8 752.0,166.0 753.5,166.2 755.0,166.5 756.5,167.0 758.0,167.6 759.5,168.5 761.0,169.7 762.5,171.6 764.0,173.8" stroke="#d2b89c"/><path d="M441.5,173.4 443.0,173.4 444.5,173.6 446.0,173.8 447.5,174.0 449.0,174.2 450.5,174.4 452.0,174.6 453.5,174.9 455.0,175.1 456.5,175.4 458.0,175.7 459.5,176.0 461.0,176.4 462.5,176.8 464.0,177.2 465.5,177.7 467.0,178.2 468.5,178.7 470.0,179.3 471.5,179.9 473.0,180.6 474.5,181.3 476.0,182.2 477.5,183.2 479.0,184.4 480.5,185.6 482.0,186.8 483.5,187.8 485.0,188.8 486.5,190.3 488.0,192.6 489.5,194.4 491.0,194.0 492.5,190.2 494.0,184.2 495.5,177.5 497.0,169.5 498.5,162.5 500.0,156.1 501.5,150.3 503.0,145.9 504.5,142.8 506.0,140.9 507.5,140.1 509.0,139.9 510.5,139.3 512.0,138.7 513.5,139.3 515.0,140.7 516.5,142.7 518.0,146.2 519.5,145.9 521.0,143.5 522.5,141.7 524.0,140.3 525.5,139.1 527.0,138.4 528.5,138.1 530.0,138.8 531.5,141.3 533.0,145.3 534.5,149.7 536.0,154.7 537.5,159.5 539.0,163.4 540.5,166.7 542.0,169.3 543.5,171.3 545.0,171.9 546.5,172.5 548.0,173.1 549.5,174.0 551.0,174.2 552.5,174.1 554.0,173.9 555.5,173.6 557.0,173.1 558.5,172.7 560.0,172.3 561.5,171.8 563.0,171.2 564.5,170.7 566.0,170.1 567.5,169.6 569.0,169.1 570.5,168.6 572.0,168.1 573.5,167.6 575.0,167.1 576.5,166.6 578.0,166.2 579.5,165.9 581.0,165.6 582.5,165.3 584.0,165.2 585.5,165.0 587.0,164.9 588.5,164.8 590.0,164.8 591.5,164.7 593.0,164.6 594.5,164.6 596.0,164.6 597.5,164.6 599.0,164.6 600.5,164.7 602.0,164.8 603.5,164.9 605.0,165.1 606.5,165.3 608.0,165.6 609.5,165.9 611.0,166.3 612.5,166.9 614.0,167.6 615.5,169.1 617.0,171.0 618.5,171.8 620.0,171.6 621.5,170.7 623.0,169.0 624.5,166.5 626.0,161.7 627.5,153.0 629.0,151.4 630.5,156.3 632.0,160.9 633.5,162.2 635.0,162.4 636.5,162.3 638.0,162.2 639.5,162.1 641.0,161.9 642.5,161.7 644.0,161.5 645.5,161.4 647.0,161.3 648.5,161.3 650.0,161.3 651.5,161.4 653.0,161.4 654.5,161.5 656.0,161.6 657.5,161.7 659.0,161.9 660.5,162.1 662.0,162.3 663.5,162.4 665.0,162.4 666.5,162.4 668.0,162.3 669.5,162.2 671.0,162.1 672.5,162.1 674.0,162.2 675.5,162.4 677.0,162.6 678.5,162.8 680.0,163.0 681.5,163.1 683.0,163.0 684.5,162.9 686.0,162.9 687.5,162.9 689.0,162.9 690.5,162.9 692.0,163.0 693.5,163.0 695.0,163.1 696.5,163.2 698.0,163.2 699.5,163.3 701.0,163.3 702.5,163.4 704.0,163.5 705.5,163.5 707.0,163.6 708.5,163.7 710.0,163.8 711.5,163.9 713.0,163.9 714.5,164.0 716.0,164.1 717.5,164.2 719.0,164.3 720.5,164.3 722.0,164.4 723.5,164.5 725.0,164.5 726.5,164.6 728.0,164.6 729.5,164.7 731.0,164.7 732.5,164.8 734.0,164.8 735.5,164.9 737.0,164.9 738.5,165.0 740.0,165.0 741.5,165.1 743.0,165.2 744.5,165.3 746.0,165.4 747.5,165.5 749.0,165.6 750.5,165.7 752.0,165.9 753.5,166.1 755.0,166.4 756.5,166.9 758.0,167.5 759.5,168.4 761.0,169.7 762.5,171.6 764.0,173.8" stroke="#d5bda2"/><path d="M441.5,172.9 443.0,173.0 444.5,173.1 446.0,173.4 447.5,173.6 449.0,173.9 450.5,174.2 452.0,174.5 453.5,174.8 455.0,175.1 456.5,175.4 458.0,175.7 459.5,176.1 461.0,176.5 462.5,176.9 464.0,177.4 465.5,177.9 467.0,178.5 468.5,179.0 470.0,179.6 471.5,180.3 473.0,181.0 474.5,181.8 476.0,182.7 477.5,183.8 479.0,185.0 480.5,186.3 482.0,187.6 483.5,188.8 485.0,189.9 486.5,191.5 488.0,193.9 489.5,195.7 491.0,195.3 492.5,191.5 494.0,185.3 495.5,178.5 497.0,170.5 498.5,163.6 500.0,157.2 501.5,151.3 503.0,146.6 504.5,143.2 506.0,141.0 507.5,139.7 509.0,139.2 510.5,138.5 512.0,138.1 513.5,138.7 515.0,140.1 516.5,142.2 518.0,145.4 519.5,144.9 521.0,142.6 522.5,140.7 524.0,139.3 525.5,138.1 527.0,137.3 528.5,137.1 530.0,137.7 531.5,140.0 533.0,143.7 534.5,147.9 536.0,152.6 537.5,157.1 539.0,160.8 540.5,163.8 542.0,166.2 543.5,168.1 545.0,168.7 546.5,169.3 548.0,169.9 549.5,170.7 551.0,171.0 552.5,171.0 554.0,170.8 555.5,170.6 557.0,170.2 558.5,169.9 560.0,169.5 561.5,169.1 563.0,168.7 564.5,168.2 566.0,167.8 567.5,167.3 569.0,166.9 570.5,166.5 572.0,166.1 573.5,165.7 575.0,165.3 576.5,164.9 578.0,164.6 579.5,164.3 581.0,164.1 582.5,164.0 584.0,163.9 585.5,163.8 587.0,163.7 588.5,163.7 590.0,163.7 591.5,163.6 593.0,163.6 594.5,163.6 596.0,163.6 597.5,163.7 599.0,163.7 600.5,163.8 602.0,164.0 603.5,164.2 605.0,164.5 606.5,164.7 608.0,165.0 609.5,165.4 611.0,165.8 612.5,166.3 614.0,167.1 615.5,168.6 617.0,170.4 618.5,171.3 620.0,171.1 621.5,170.2 623.0,168.6 624.5,166.1 626.0,161.3 627.5,152.6 629.0,151.0 630.5,155.9 632.0,160.5 633.5,161.8 635.0,162.0 636.5,161.9 638.0,161.8 639.5,161.7 641.0,161.5 642.5,161.3 644.0,161.1 645.5,161.0 647.0,160.9 648.5,161.0 650.0,161.0 651.5,161.1 653.0,161.1 654.5,161.2 656.0,161.4 657.5,161.5 659.0,161.7 660.5,161.9 662.0,162.0 663.5,162.2 665.0,162.2 666.5,162.2 668.0,162.1 669.5,162.1 671.0,162.0 672.5,162.0 674.0,162.1 675.5,162.3 677.0,162.5 678.5,162.7 680.0,162.9 681.5,163.0 683.0,162.8 684.5,162.7 686.0,162.6 687.5,162.6 689.0,162.6 690.5,162.7 692.0,162.7 693.5,162.8 695.0,162.9 696.5,162.9 698.0,163.0 699.5,163.0 701.0,163.1 702.5,163.2 704.0,163.3 705.5,163.3 707.0,163.4 708.5,163.5 710.0,163.6 711.5,163.7 713.0,163.8 714.5,163.9 716.0,163.9 717.5,164.0 719.0,164.1 720.5,164.2 722.0,164.3 723.5,164.3 725.0,164.4 726.5,164.4 728.0,164.5 729.5,164.5 731.0,164.6 732.5,164.6 734.0,164.7 735.5,164.7 737.0,164.8 738.5,164.9 740.0,164.9 741.5,165.0 743.0,165.1 744.5,165.2 746.0,165.3 747.5,165.4 749.0,165.5 750.5,165.6 752.0,165.8 753.5,166.0 755.0,166.2 756.5,166.7 758.0,167.4 759.5,168.3 761.0,169.7 762.5,171.6 764.0,173.9" stroke="#d8c3a9"/><path d="M441.5,172.5 443.0,172.5 444.5,172.7 446.0,173.0 447.5,173.3 449.0,173.6 450.5,174.0 452.0,174.3 453.5,174.6 455.0,175.0 456.5,175.4 458.0,175.8 459.5,176.2 461.0,176.6 462.5,177.1 464.0,177.6 465.5,178.1 467.0,178.7 468.5,179.3 470.0,180.0 471.5,180.7 473.0,181.4 474.5,182.3 476.0,183.2 477.5,184.3 479.0,185.6 480.5,186.9 482.0,188.3 483.5,189.7 485.0,190.9 486.5,192.7 488.0,195.2 489.5,196.9 491.0,196.6 492.5,192.7 494.0,186.4 495.5,179.5 497.0,171.4 498.5,164.8 500.0,158.4 501.5,152.3 503.0,147.3 504.5,143.6 506.0,141.0 507.5,139.4 509.0,138.5 510.5,137.8 512.0,137.4 513.5,138.1 515.0,139.6 516.5,141.6 518.0,144.7 519.5,144.0 521.0,141.6 522.5,139.8 524.0,138.3 525.5,137.1 527.0,136.3 528.5,136.1 530.0,136.7 531.5,138.8 533.0,142.3 534.5,146.2 536.0,150.6 537.5,154.8 539.0,158.3 540.5,161.1 542.0,163.3 543.5,165.0 545.0,165.6 546.5,166.2 548.0,166.9 549.5,167.6 551.0,168.0 552.5,168.0 554.0,167.9 555.5,167.7 557.0,167.5 558.5,167.2 560.0,166.9 561.5,166.6 563.0,166.3 564.5,165.9 566.0,165.5 567.5,165.2 569.0,164.8 570.5,164.5 572.0,164.2 573.5,163.9 575.0,163.6 576.5,163.3 578.0,163.1 579.5,162.9 581.0,162.8 582.5,162.7 584.0,162.6 585.5,162.6 587.0,162.6 588.5,162.6 590.0,162.6 591.5,162.7 593.0,162.7 594.5,162.7 596.0,162.7 597.5,162.8 599.0,162.9 600.5,163.1 602.0,163.3 603.5,163.6 605.0,163.9 606.5,164.2 608.0,164.4 609.5,164.8 611.0,165.2 612.5,165.8 614.0,166.6 615.5,168.0 617.0,169.9 618.5,170.8 620.0,170.6 621.5,169.7 623.0,168.1 624.5,165.6 626.0,160.8 627.5,152.2 629.0,150.6 630.5,155.5 632.0,160.1 633.5,161.4 635.0,161.5 636.5,161.5 638.0,161.4 639.5,161.2 641.0,161.1 642.5,160.9 644.0,160.7 645.5,160.6 647.0,160.6 648.5,160.6 650.0,160.7 651.5,160.8 653.0,160.9 654.5,161.0 656.0,161.1 657.5,161.3 659.0,161.5 660.5,161.7 662.0,161.8 663.5,162.0 665.0,162.0 666.5,162.0 668.0,162.0 669.5,161.9 671.0,161.9 672.5,161.9 674.0,162.0 675.5,162.2 677.0,162.4 678.5,162.6 680.0,162.8 681.5,162.9 683.0,162.7 684.5,162.5 686.0,162.4 687.5,162.3 689.0,162.3 690.5,162.4 692.0,162.5 693.5,162.5 695.0,162.6 696.5,162.7 698.0,162.7 699.5,162.8 701.0,162.9 702.5,163.0 704.0,163.1 705.5,163.1 707.0,163.2 708.5,163.3 710.0,163.4 711.5,163.5 713.0,163.6 714.5,163.7 716.0,163.8 717.5,163.9 719.0,163.9 720.5,164.0 722.0,164.1 723.5,164.2 725.0,164.2 726.5,164.3 728.0,164.3 729.5,164.4 731.0,164.5 732.5,164.5 734.0,164.6 735.5,164.6 737.0,164.7 738.5,164.7 740.0,164.8 741.5,164.9 743.0,165.0 744.5,165.1 746.0,165.2 747.5,165.3 749.0,165.4 750.5,165.5 752.0,165.7 753.5,165.8 755.0,166.1 756.5,166.6 758.0,167.2 759.5,168.2 761.0,169.6 762.5,171.7 764.0,173.9" stroke="#dcc8af"/><path d="M441.5,172.2 443.0,172.1 444.5,172.3 446.0,172.6 447.5,173.0 449.0,173.4 450.5,173.7 452.0,174.1 453.5,174.5 455.0,174.9 456.5,175.4 458.0,175.8 459.5,176.2 461.0,176.7 462.5,177.2 464.0,177.8 465.5,178.3 467.0,179.0 468.5,179.6 470.0,180.3 471.5,181.0 473.0,181.8 474.5,182.7 476.0,183.7 477.5,184.8 479.0,186.1 480.5,187.6 482.0,189.1 483.5,190.5 485.0,192.0 486.5,193.9 488.0,196.4 489.5,198.2 491.0,197.9 492.5,193.9 494.0,187.6 495.5,180.4 497.0,172.3 498.5,165.9 500.0,159.5 501.5,153.2 503.0,148.0 504.5,144.0 506.0,141.0 507.5,139.0 509.0,137.8 510.5,137.0 512.0,136.8 513.5,137.5 515.0,139.0 516.5,141.1 518.0,143.9 519.5,143.1 521.0,140.7 522.5,138.8 524.0,137.4 525.5,136.1 527.0,135.3 528.5,135.1 530.0,135.6 531.5,137.6 533.0,140.8 534.5,144.5 536.0,148.6 537.5,152.6 539.0,155.8 540.5,158.4 542.0,160.5 543.5,162.1 545.0,162.7 546.5,163.3 548.0,164.0 549.5,164.7 551.0,165.1 552.5,165.2 554.0,165.1 555.5,165.0 557.0,164.8 558.5,164.7 560.0,164.4 561.5,164.2 563.0,164.0 564.5,163.7 566.0,163.4 567.5,163.1 569.0,162.9 570.5,162.7 572.0,162.4 573.5,162.2 575.0,162.0 576.5,161.8 578.0,161.6 579.5,161.5 581.0,161.5 582.5,161.4 584.0,161.4 585.5,161.5 587.0,161.5 588.5,161.6 590.0,161.6 591.5,161.7 593.0,161.8 594.5,161.8 596.0,161.9 597.5,162.0 599.0,162.1 600.5,162.3 602.0,162.6 603.5,162.9 605.0,163.3 606.5,163.6 608.0,163.9 609.5,164.3 611.0,164.7 612.5,165.3 614.0,166.1 615.5,167.6 617.0,169.5 618.5,170.4 620.0,170.2 621.5,169.4 623.0,167.7 624.5,165.1 626.0,160.3 627.5,151.7 629.0,150.1 630.5,155.0 632.0,159.6 633.5,160.9 635.0,161.1 636.5,161.0 638.0,160.9 639.5,160.8 641.0,160.6 642.5,160.4 644.0,160.2 645.5,160.1 647.0,160.2 648.5,160.3 650.0,160.4 651.5,160.5 653.0,160.6 654.5,160.7 656.0,160.8 657.5,161.0 659.0,161.2 660.5,161.4 662.0,161.6 663.5,161.7 665.0,161.8 666.5,161.8 668.0,161.8 669.5,161.8 671.0,161.8 672.5,161.8 674.0,161.9 675.5,162.1 677.0,162.3 678.5,162.6 680.0,162.7 681.5,162.8 683.0,162.5 684.5,162.3 686.0,162.2 687.5,162.1 689.0,162.1 690.5,162.1 692.0,162.2 693.5,162.3 695.0,162.3 696.5,162.4 698.0,162.5 699.5,162.6 701.0,162.7 702.5,162.7 704.0,162.8 705.5,162.9 707.0,163.0 708.5,163.1 710.0,163.2 711.5,163.3 713.0,163.4 714.5,163.5 716.0,163.6 717.5,163.7 719.0,163.8 720.5,163.9 722.0,163.9 723.5,164.0 725.0,164.1 726.5,164.1 728.0,164.2 729.5,164.3 731.0,164.3 732.5,164.4 734.0,164.4 735.5,164.5 737.0,164.6 738.5,164.6 740.0,164.7 741.5,164.8 743.0,164.9 744.5,164.9 746.0,165.0 747.5,165.1 749.0,165.3 750.5,165.4 752.0,165.5 753.5,165.7 755.0,166.0 756.5,166.4 758.0,167.1 759.5,168.1 761.0,169.6 762.5,171.7 764.0,174.0" stroke="#ddcdb6"/><path d="M441.5,171.8 443.0,171.7 444.5,171.9 446.0,172.3 447.5,172.7 449.0,173.1 450.5,173.5 452.0,174.0 453.5,174.4 455.0,174.9 456.5,175.3 458.0,175.8 459.5,176.3 461.0,176.8 462.5,177.4 464.0,177.9 465.5,178.5 467.0,179.2 468.5,179.9 470.0,180.6 471.5,181.4 473.0,182.2 474.5,183.1 476.0,184.2 477.5,185.3 479.0,186.7 480.5,188.2 482.0,189.8 483.5,191.4 485.0,193.0 486.5,195.0 488.0,197.6 489.5,199.5 491.0,199.2 492.5,195.2 494.0,188.7 495.5,181.4 497.0,173.3 498.5,167.0 500.0,160.7 501.5,154.2 503.0,148.6 504.5,144.3 506.0,141.1 507.5,138.7 509.0,137.2 510.5,136.4 512.0,136.2 513.5,137.0 515.0,138.4 516.5,140.6 518.0,143.2 519.5,142.2 521.0,139.8 522.5,138.0 524.0,136.4 525.5,135.2 527.0,134.4 528.5,134.1 530.0,134.7 531.5,136.5 533.0,139.4 534.5,142.9 536.0,146.8 537.5,150.5 539.0,153.5 540.5,155.9 542.0,157.8 543.5,159.3 545.0,159.9 546.5,160.5 548.0,161.2 549.5,161.9 551.0,162.3 552.5,162.5 554.0,162.5 555.5,162.4 557.0,162.4 558.5,162.2 560.0,162.1 561.5,161.9 563.0,161.8 564.5,161.6 566.0,161.4 567.5,161.2 569.0,161.0 570.5,160.9 572.0,160.7 573.5,160.6 575.0,160.5 576.5,160.4 578.0,160.3 579.5,160.2 581.0,160.2 582.5,160.2 584.0,160.3 585.5,160.4 587.0,160.5 588.5,160.6 590.0,160.7 591.5,160.8 593.0,160.9 594.5,161.0 596.0,161.1 597.5,161.2 599.0,161.4 600.5,161.6 602.0,161.9 603.5,162.3 605.0,162.7 606.5,163.1 608.0,163.5 609.5,164.0 611.0,164.6 612.5,165.3 614.0,166.3 615.5,167.9 617.0,170.0 618.5,171.4 620.0,172.0 621.5,171.4 623.0,168.5 624.5,163.9 626.0,158.1 627.5,150.4 629.0,149.0 630.5,153.3 632.0,157.3 633.5,158.8 635.0,159.2 636.5,159.4 638.0,159.6 639.5,159.7 641.0,159.7 642.5,159.7 644.0,159.7 645.5,159.7 647.0,159.8 648.5,159.9 650.0,160.0 651.5,160.2 653.0,160.3 654.5,160.4 656.0,160.6 657.5,160.8 659.0,161.0 660.5,161.2 662.0,161.4 663.5,161.5 665.0,161.6 666.5,161.7 668.0,161.7 669.5,161.7 671.0,161.7 672.5,161.7 674.0,161.9 675.5,162.0 677.0,162.3 678.5,162.5 680.0,162.6 681.5,162.7 683.0,162.4 684.5,162.2 686.0,161.9 687.5,161.8 689.0,161.8 690.5,161.8 692.0,161.9 693.5,162.0 695.0,162.1 696.5,162.2 698.0,162.2 699.5,162.3 701.0,162.4 702.5,162.5 704.0,162.6 705.5,162.7 707.0,162.8 708.5,162.9 710.0,163.0 711.5,163.1 713.0,163.2 714.5,163.3 716.0,163.4 717.5,163.5 719.0,163.6 720.5,163.7 722.0,163.8 723.5,163.8 725.0,163.9 726.5,164.0 728.0,164.0 729.5,164.1 731.0,164.2 732.5,164.2 734.0,164.3 735.5,164.4 737.0,164.4 738.5,164.5 740.0,164.6 741.5,164.7 743.0,164.7 744.5,164.8 746.0,164.9 747.5,165.0 749.0,165.2 750.5,165.3 752.0,165.4 753.5,165.6 755.0,165.8 756.5,166.3 758.0,167.0 759.5,168.0 761.0,169.6 762.5,171.8 764.0,174.0" stroke="#d8d2bd"/><path d="M441.5,171.5 443.0,171.3 444.5,171.5 446.0,171.9 447.5,172.4 449.0,172.9 450.5,173.3 452.0,173.8 453.5,174.3 455.0,174.8 456.5,175.3 458.0,175.8 459.5,176.4 461.0,176.9 462.5,177.5 464.0,178.1 465.5,178.7 467.0,179.4 468.5,180.1 470.0,180.9 471.5,181.7 473.0,182.6 474.5,183.5 476.0,184.6 477.5,185.8 479.0,187.2 480.5,188.8 482.0,190.5 483.5,192.2 485.0,194.0 486.5,196.2 488.0,198.9 489.5,200.7 491.0,200.4 492.5,196.4 494.0,189.8 495.5,182.4 497.0,174.2 498.5,168.2 500.0,161.8 501.5,155.1 503.0,149.2 504.5,144.7 506.0,141.1 507.5,138.4 509.0,136.6 510.5,135.7 512.0,135.6 513.5,136.4 515.0,137.9 516.5,140.1 518.0,142.5 519.5,141.4 521.0,139.0 522.5,137.1 524.0,135.6 525.5,134.3 527.0,133.5 528.5,133.2 530.0,133.7 531.5,135.4 533.0,138.1 534.5,141.4 536.0,145.0 537.5,148.4 539.0,151.3 540.5,153.6 542.0,155.3 543.5,156.7 545.0,157.3 546.5,157.9 548.0,158.6 549.5,159.3 551.0,159.7 552.5,159.9 554.0,160.0 555.5,160.0 557.0,160.0 558.5,160.0 560.0,159.9 561.5,159.8 563.0,159.7 564.5,159.6 566.0,159.5 567.5,159.4 569.0,159.3 570.5,159.2 572.0,159.1 573.5,159.1 575.0,159.0 576.5,159.0 578.0,159.0 579.5,159.0 581.0,159.1 582.5,159.1 584.0,159.2 585.5,159.4 587.0,159.5 588.5,159.7 590.0,159.8 591.5,160.0 593.0,160.1 594.5,160.2 596.0,160.3 597.5,160.5 599.0,160.7 600.5,161.0 602.0,161.3 603.5,161.7 605.0,162.2 606.5,162.6 608.0,163.2 609.5,163.9 611.0,164.8 612.5,165.8 614.0,167.0 615.5,168.9 617.0,171.3 618.5,173.5 620.0,175.5 621.5,175.3 623.0,170.2 624.5,162.2 626.0,154.6 627.5,148.4 629.0,147.5 630.5,150.6 632.0,153.7 633.5,155.4 635.0,156.3 636.5,157.0 638.0,157.6 639.5,158.1 641.0,158.5 642.5,158.8 644.0,159.1 645.5,159.3 647.0,159.4 648.5,159.5 650.0,159.7 651.5,159.8 653.0,160.0 654.5,160.1 656.0,160.3 657.5,160.5 659.0,160.7 660.5,160.9 662.0,161.1 663.5,161.3 665.0,161.4 666.5,161.5 668.0,161.5 669.5,161.5 671.0,161.5 672.5,161.6 674.0,161.8 675.5,162.0 677.0,162.2 678.5,162.4 680.0,162.6 681.5,162.5 683.0,162.2 684.5,162.0 686.0,161.7 687.5,161.5 689.0,161.5 690.5,161.5 692.0,161.6 693.5,161.7 695.0,161.8 696.5,161.9 698.0,162.0 699.5,162.1 701.0,162.2 702.5,162.3 704.0,162.4 705.5,162.5 707.0,162.6 708.5,162.7 710.0,162.8 711.5,162.9 713.0,163.0 714.5,163.1 716.0,163.2 717.5,163.3 719.0,163.4 720.5,163.5 722.0,163.6 723.5,163.7 725.0,163.8 726.5,163.8 728.0,163.9 729.5,164.0 731.0,164.0 732.5,164.1 734.0,164.2 735.5,164.2 737.0,164.3 738.5,164.4 740.0,164.4 741.5,164.5 743.0,164.6 744.5,164.7 746.0,164.8 747.5,164.9 749.0,165.0 750.5,165.2 752.0,165.3 753.5,165.4 755.0,165.7 756.5,166.2 758.0,166.8 759.5,167.9 761.0,169.6 762.5,171.8 764.0,174.1" stroke="#96cdc3"/><path d="M441.5,171.1 443.0,170.9 444.5,171.2 446.0,171.6 447.5,172.1 449.0,172.6 450.5,173.2 452.0,173.7 453.5,174.2 455.0,174.8 456.5,175.3 458.0,175.9 459.5,176.4 461.0,177.0 462.5,177.6 464.0,178.2 465.5,178.9 467.0,179.6 468.5,180.4 470.0,181.2 471.5,182.0 473.0,183.0 474.5,183.9 476.0,185.0 477.5,186.3 479.0,187.7 480.5,189.4 482.0,191.2 483.5,193.1 485.0,194.9 486.5,197.3 488.0,200.0 489.5,201.9 491.0,201.6 492.5,197.6 494.0,190.9 495.5,183.3 497.0,175.1 498.5,169.3 500.0,163.0 501.5,156.0 503.0,149.9 504.5,145.0 506.0,141.1 507.5,138.1 509.0,136.0 510.5,135.1 512.0,135.0 513.5,135.9 515.0,137.4 516.5,139.6 518.0,141.9 519.5,140.6 521.0,138.1 522.5,136.3 524.0,134.7 525.5,133.4 527.0,132.6 528.5,132.3 530.0,132.8 531.5,134.4 533.0,136.9 534.5,139.9 536.0,143.3 537.5,146.5 539.0,149.3 540.5,151.3 542.0,153.0 543.5,154.2 545.0,154.8 546.5,155.5 548.0,156.2 549.5,156.9 551.0,157.3 552.5,157.5 554.0,157.7 555.5,157.8 557.0,157.8 558.5,157.8 560.0,157.8 561.5,157.8 563.0,157.8 564.5,157.7 566.0,157.7 567.5,157.7 569.0,157.6 570.5,157.6 572.0,157.7 573.5,157.7 575.0,157.7 576.5,157.7 578.0,157.8 579.5,157.9 581.0,158.0 582.5,158.1 584.0,158.3 585.5,158.4 587.0,158.6 588.5,158.8 590.0,159.0 591.5,159.2 593.0,159.3 594.5,159.5 596.0,159.6 597.5,159.8 599.0,160.0 600.5,160.3 602.0,160.7 603.5,161.2 605.0,161.6 606.5,162.2 608.0,162.9 609.5,163.8 611.0,165.0 612.5,166.3 614.0,167.7 615.5,169.9 617.0,172.7 618.5,175.6 620.0,179.0 621.5,179.2 623.0,171.8 624.5,160.4 626.0,151.0 627.5,146.3 629.0,145.9 630.5,147.8 632.0,150.0 633.5,151.9 635.0,153.5 636.5,154.6 638.0,155.6 639.5,156.5 641.0,157.2 642.5,157.9 644.0,158.4 645.5,158.8 647.0,159.0 648.5,159.2 650.0,159.3 651.5,159.5 653.0,159.7 654.5,159.9 656.0,160.0 657.5,160.2 659.0,160.5 660.5,160.7 662.0,160.9 663.5,161.1 665.0,161.2 666.5,161.3 668.0,161.3 669.5,161.4 671.0,161.4 672.5,161.5 674.0,161.7 675.5,161.9 677.0,162.1 678.5,162.3 680.0,162.5 681.5,162.4 683.0,162.1 684.5,161.8 686.0,161.4 687.5,161.2 689.0,161.2 690.5,161.2 692.0,161.3 693.5,161.4 695.0,161.5 696.5,161.6 698.0,161.7 699.5,161.8 701.0,161.9 702.5,162.1 704.0,162.2 705.5,162.3 707.0,162.4 708.5,162.5 710.0,162.6 711.5,162.7 713.0,162.9 714.5,163.0 716.0,163.1 717.5,163.2 719.0,163.3 720.5,163.3 722.0,163.4 723.5,163.5 725.0,163.6 726.5,163.7 728.0,163.7 729.5,163.8 731.0,163.9 732.5,163.9 734.0,164.0 735.5,164.1 737.0,164.2 738.5,164.2 740.0,164.3 741.5,164.4 743.0,164.5 744.5,164.6 746.0,164.7 747.5,164.8 749.0,164.9 750.5,165.0 752.0,165.2 753.5,165.3 755.0,165.6 756.5,166.0 758.0,166.7 759.5,167.8 761.0,169.6 762.5,171.8 764.0,174.1" stroke="#4bb4b0"/><path d="M441.5,170.8 443.0,170.6 444.5,170.8 446.0,171.3 447.5,171.9 449.0,172.4 450.5,173.0 452.0,173.6 453.5,174.1 455.0,174.7 456.5,175.3 458.0,175.9 459.5,176.5 461.0,177.1 462.5,177.7 464.0,178.4 465.5,179.1 467.0,179.8 468.5,180.6 470.0,181.4 471.5,182.3 473.0,183.3 474.5,184.3 476.0,185.5 477.5,186.8 479.0,188.3 480.5,190.0 482.0,191.9 483.5,193.9 485.0,195.9 486.5,198.4 488.0,201.2 489.5,203.1 491.0,202.9 492.5,198.7 494.0,191.9 495.5,184.3 497.0,176.0 498.5,170.4 500.0,164.1 501.5,157.0 503.0,150.5 504.5,145.3 506.0,141.1 507.5,137.8 509.0,135.4 510.5,134.5 512.0,134.5 513.5,135.4 515.0,136.9 516.5,139.1 518.0,141.3 519.5,139.8 521.0,137.4 522.5,135.5 524.0,133.9 525.5,132.6 527.0,131.7 528.5,131.5 530.0,131.9 531.5,133.4 533.0,135.7 534.5,138.6 536.0,141.8 537.5,144.8 539.0,147.3 540.5,149.3 542.0,150.8 543.5,151.9 545.0,152.5 546.5,153.2 548.0,153.9 549.5,154.6 551.0,155.0 552.5,155.3 554.0,155.5 555.5,155.7 557.0,155.8 558.5,155.9 560.0,155.9 561.5,156.0 563.0,156.0 564.5,156.0 566.0,156.0 567.5,156.1 569.0,156.1 570.5,156.2 572.0,156.3 573.5,156.4 575.0,156.4 576.5,156.5 578.0,156.7 579.5,156.8 581.0,157.0 582.5,157.1 584.0,157.3 585.5,157.5 587.0,157.8 588.5,158.0 590.0,158.2 591.5,158.4 593.0,158.6 594.5,158.8 596.0,159.0 597.5,159.2 599.0,159.4 600.5,159.8 602.0,160.2 603.5,160.6 605.0,161.2 606.5,161.8 608.0,162.6 609.5,163.6 611.0,165.0 612.5,166.4 614.0,168.0 615.5,170.3 617.0,173.2 618.5,176.6 620.0,180.8 621.5,181.2 623.0,172.6 624.5,159.2 626.0,148.8 627.5,145.0 629.0,144.8 630.5,146.1 632.0,147.7 633.5,149.7 635.0,151.6 636.5,153.0 638.0,154.2 639.5,155.3 641.0,156.3 642.5,157.1 644.0,157.9 645.5,158.4 647.0,158.6 648.5,158.8 650.0,159.0 651.5,159.2 653.0,159.4 654.5,159.6 656.0,159.8 657.5,160.0 659.0,160.2 660.5,160.4 662.0,160.7 663.5,160.8 665.0,161.0 666.5,161.1 668.0,161.2 669.5,161.2 671.0,161.3 672.5,161.4 674.0,161.6 675.5,161.8 677.0,162.0 678.5,162.2 680.0,162.4 681.5,162.3 683.0,161.9 684.5,161.6 686.0,161.2 687.5,160.9 689.0,160.9 690.5,160.9 692.0,161.0 693.5,161.1 695.0,161.2 696.5,161.4 698.0,161.5 699.5,161.6 701.0,161.7 702.5,161.8 704.0,161.9 705.5,162.1 707.0,162.2 708.5,162.3 710.0,162.4 711.5,162.5 713.0,162.7 714.5,162.8 716.0,162.9 717.5,163.0 719.0,163.1 720.5,163.2 722.0,163.3 723.5,163.3 725.0,163.4 726.5,163.5 728.0,163.6 729.5,163.6 731.0,163.7 732.5,163.8 734.0,163.9 735.5,163.9 737.0,164.0 738.5,164.1 740.0,164.2 741.5,164.3 743.0,164.4 744.5,164.5 746.0,164.6 747.5,164.7 749.0,164.8 750.5,164.9 752.0,165.0 753.5,165.2 755.0,165.4 756.5,165.8 758.0,166.5 759.5,167.7 761.0,169.5 762.5,171.9 764.0,174.2" stroke="#2ea4a4"/><path d="M441.5,170.6 443.0,170.3 444.5,170.5 446.0,171.1 447.5,171.6 449.0,172.2 450.5,172.8 452.0,173.4 453.5,174.0 455.0,174.7 456.5,175.3 458.0,175.9 459.5,176.5 461.0,177.2 462.5,177.8 464.0,178.5 465.5,179.3 467.0,180.0 468.5,180.8 470.0,181.7 471.5,182.6 473.0,183.6 474.5,184.7 476.0,185.9 477.5,187.2 479.0,188.7 480.5,190.6 482.0,192.6 483.5,194.7 485.0,196.8 486.5,199.4 488.0,202.4 489.5,204.2 491.0,204.0 492.5,199.9 494.0,193.0 495.5,185.2 497.0,177.0 498.5,171.6 500.0,165.3 501.5,157.9 503.0,151.1 504.5,145.6 506.0,141.2 507.5,137.5 509.0,134.9 510.5,133.9 512.0,134.0 513.5,135.0 515.0,136.5 516.5,138.7 518.0,140.7 519.5,139.1 521.0,136.6 522.5,134.8 524.0,133.1 525.5,131.8 527.0,131.0 528.5,130.7 530.0,131.1 531.5,132.5 533.0,134.6 534.5,137.3 536.0,140.3 537.5,143.1 539.0,145.5 540.5,147.3 542.0,148.7 543.5,149.8 545.0,150.5 546.5,151.2 548.0,151.8 549.5,152.5 551.0,153.0 552.5,153.3 554.0,153.6 555.5,153.8 557.0,153.9 558.5,154.0 560.0,154.2 561.5,154.3 563.0,154.3 564.5,154.4 566.0,154.5 567.5,154.6 569.0,154.7 570.5,154.9 572.0,155.0 573.5,155.2 575.0,155.3 576.5,155.5 578.0,155.6 579.5,155.8 581.0,156.0 582.5,156.3 584.0,156.5 585.5,156.7 587.0,157.0 588.5,157.3 590.0,157.5 591.5,157.8 593.0,158.0 594.5,158.1 596.0,158.3 597.5,158.6 599.0,158.9 600.5,159.2 602.0,159.7 603.5,160.2 605.0,160.7 606.5,161.3 608.0,162.2 609.5,163.2 611.0,164.6 612.5,165.9 614.0,167.5 615.5,169.9 617.0,172.8 618.5,176.2 620.0,180.5 621.5,180.8 623.0,172.2 624.5,158.7 626.0,148.3 627.5,144.5 629.0,144.3 630.5,145.6 632.0,147.1 633.5,149.2 635.0,151.1 636.5,152.5 638.0,153.7 639.5,154.8 641.0,155.8 642.5,156.6 644.0,157.4 645.5,157.9 647.0,158.2 648.5,158.4 650.0,158.6 651.5,158.8 653.0,159.0 654.5,159.3 656.0,159.5 657.5,159.7 659.0,159.9 660.5,160.2 662.0,160.4 663.5,160.6 665.0,160.8 666.5,160.9 668.0,161.0 669.5,161.1 671.0,161.2 672.5,161.3 674.0,161.5 675.5,161.7 677.0,161.9 678.5,162.1 680.0,162.3 681.5,162.2 683.0,161.8 684.5,161.3 686.0,160.9 687.5,160.6 689.0,160.5 690.5,160.6 692.0,160.7 693.5,160.8 695.0,161.0 696.5,161.1 698.0,161.2 699.5,161.3 701.0,161.4 702.5,161.6 704.0,161.7 705.5,161.8 707.0,162.0 708.5,162.1 710.0,162.2 711.5,162.3 713.0,162.5 714.5,162.6 716.0,162.7 717.5,162.8 719.0,162.9 720.5,163.0 722.0,163.1 723.5,163.2 725.0,163.2 726.5,163.3 728.0,163.4 729.5,163.5 731.0,163.6 732.5,163.6 734.0,163.7 735.5,163.8 737.0,163.9 738.5,164.0 740.0,164.1 741.5,164.2 743.0,164.3 744.5,164.4 746.0,164.5 747.5,164.6 749.0,164.7 750.5,164.8 752.0,164.9 753.5,165.0 755.0,165.3 756.5,165.7 758.0,166.4 759.5,167.6 761.0,169.5 762.5,171.9 764.0,174.2" stroke="#1b959b"/><path d="M441.5,170.3 443.0,170.0 444.5,170.3 446.0,170.8 447.5,171.4 449.0,172.1 450.5,172.7 452.0,173.3 453.5,174.0 455.0,174.6 456.5,175.3 458.0,175.9 459.5,176.6 461.0,177.2 462.5,177.9 464.0,178.6 465.5,179.4 467.0,180.2 468.5,181.0 470.0,181.9 471.5,182.9 473.0,183.9 474.5,185.0 476.0,186.2 477.5,187.6 479.0,189.2 480.5,191.1 482.0,193.2 483.5,195.4 485.0,197.7 486.5,200.5 488.0,203.5 489.5,205.4 491.0,205.2 492.5,201.0 494.0,194.1 495.5,186.1 497.0,177.9 498.5,172.7 500.0,166.4 501.5,158.8 503.0,151.7 504.5,145.9 506.0,141.2 507.5,137.3 509.0,134.4 510.5,133.4 512.0,133.5 513.5,134.6 515.0,136.1 516.5,138.3 518.0,140.1 519.5,138.5 521.0,136.0 522.5,134.1 524.0,132.4 525.5,131.1 527.0,130.2 528.5,130.0 530.0,130.4 531.5,131.6 533.0,133.6 534.5,136.1 536.0,138.9 537.5,141.6 539.0,143.9 540.5,145.6 542.0,146.9 543.5,147.9 545.0,148.6 546.5,149.3 548.0,150.0 549.5,150.6 551.0,151.1 552.5,151.5 554.0,151.8 555.5,152.0 557.0,152.2 558.5,152.4 560.0,152.6 561.5,152.7 563.0,152.9 564.5,153.0 566.0,153.2 567.5,153.3 569.0,153.5 570.5,153.7 572.0,153.9 573.5,154.1 575.0,154.3 576.5,154.5 578.0,154.7 579.5,154.9 581.0,155.2 582.5,155.5 584.0,155.7 585.5,156.0 587.0,156.3 588.5,156.6 590.0,156.9 591.5,157.2 593.0,157.4 594.5,157.6 596.0,157.8 597.5,158.1 599.0,158.4 600.5,158.8 602.0,159.2 603.5,159.7 605.0,160.3 606.5,160.9 608.0,161.7 609.5,162.7 611.0,164.1 612.5,165.5 614.0,167.1 615.5,169.5 617.0,172.4 618.5,175.7 620.0,180.0 621.5,180.4 623.0,171.7 624.5,158.2 626.0,147.8 627.5,144.0 629.0,143.8 630.5,145.1 632.0,146.7 633.5,148.7 635.0,150.6 636.5,152.0 638.0,153.2 639.5,154.3 641.0,155.3 642.5,156.1 644.0,156.9 645.5,157.4 647.0,157.7 648.5,158.0 650.0,158.3 651.5,158.5 653.0,158.7 654.5,158.9 656.0,159.2 657.5,159.4 659.0,159.7 660.5,159.9 662.0,160.2 663.5,160.4 665.0,160.5 666.5,160.7 668.0,160.8 669.5,160.9 671.0,161.0 672.5,161.2 674.0,161.4 675.5,161.6 677.0,161.8 678.5,162.0 680.0,162.2 681.5,162.1 683.0,161.6 684.5,161.1 686.0,160.7 687.5,160.3 689.0,160.2 690.5,160.3 692.0,160.4 693.5,160.5 695.0,160.7 696.5,160.8 698.0,160.9 699.5,161.0 701.0,161.2 702.5,161.3 704.0,161.4 705.5,161.6 707.0,161.7 708.5,161.9 710.0,162.0 711.5,162.1 713.0,162.2 714.5,162.4 716.0,162.5 717.5,162.6 719.0,162.7 720.5,162.8 722.0,162.9 723.5,163.0 725.0,163.1 726.5,163.1 728.0,163.2 729.5,163.3 731.0,163.4 732.5,163.5 734.0,163.6 735.5,163.6 737.0,163.7 738.5,163.8 740.0,163.9 741.5,164.0 743.0,164.1 744.5,164.2 746.0,164.3 747.5,164.4 749.0,164.6 750.5,164.7 752.0,164.8 753.5,164.9 755.0,165.1 756.5,165.5 758.0,166.2 759.5,167.5 761.0,169.5 762.5,172.0 764.0,174.3" stroke="#148896"/><path d="M441.5,170.1 443.0,169.8 444.5,170.0 446.0,170.6 447.5,171.2 449.0,171.9 450.5,172.6 452.0,173.2 453.5,173.9 455.0,174.6 456.5,175.3 458.0,176.0 459.5,176.6 461.0,177.3 462.5,178.0 464.0,178.8 465.5,179.6 467.0,180.4 468.5,181.2 470.0,182.1 471.5,183.1 473.0,184.2 474.5,185.4 476.0,186.6 477.5,188.0 479.0,189.6 480.5,191.6 482.0,193.8 483.5,196.1 485.0,198.5 486.5,201.5 488.0,204.5 489.5,206.5 491.0,206.4 492.5,202.2 494.0,195.1 495.5,187.1 497.0,178.8 498.5,173.8 500.0,167.6 501.5,159.7 503.0,152.2 504.5,146.2 506.0,141.2 507.5,137.0 509.0,133.9 510.5,132.9 512.0,133.1 513.5,134.2 515.0,135.7 516.5,137.9 518.0,139.6 519.5,137.8 521.0,135.3 522.5,133.5 524.0,131.8 525.5,130.4 527.0,129.5 528.5,129.3 530.0,129.7 531.5,130.8 533.0,132.7 534.5,135.1 536.0,137.7 537.5,140.2 539.0,142.4 540.5,144.0 542.0,145.2 543.5,146.2 545.0,146.9 546.5,147.6 548.0,148.3 549.5,149.0 551.0,149.5 552.5,149.9 554.0,150.2 555.5,150.5 557.0,150.7 558.5,150.9 560.0,151.2 561.5,151.4 563.0,151.5 564.5,151.7 566.0,151.9 567.5,152.1 569.0,152.4 570.5,152.6 572.0,152.8 573.5,153.1 575.0,153.4 576.5,153.6 578.0,153.9 579.5,154.2 581.0,154.5 582.5,154.8 584.0,155.1 585.5,155.4 587.0,155.7 588.5,156.0 590.0,156.3 591.5,156.6 593.0,156.9 594.5,157.1 596.0,157.3 597.5,157.6 599.0,157.9 600.5,158.3 602.0,158.8 603.5,159.3 605.0,159.9 606.5,160.6 608.0,161.4 609.5,162.3 611.0,163.7 612.5,165.1 614.0,166.7 615.5,169.0 617.0,171.9 618.5,175.3 620.0,179.6 621.5,179.9 623.0,171.3 624.5,157.7 626.0,147.3 627.5,143.5 629.0,143.3 630.5,144.6 632.0,146.2 633.5,148.2 635.0,150.1 636.5,151.5 638.0,152.7 639.5,153.8 641.0,154.8 642.5,155.6 644.0,156.3 645.5,156.9 647.0,157.2 648.5,157.6 650.0,157.9 651.5,158.1 653.0,158.4 654.5,158.6 656.0,158.9 657.5,159.1 659.0,159.4 660.5,159.6 662.0,159.9 663.5,160.1 665.0,160.3 666.5,160.5 668.0,160.6 669.5,160.8 671.0,160.9 672.5,161.1 674.0,161.3 675.5,161.5 677.0,161.7 678.5,161.9 680.0,162.1 681.5,162.0 683.0,161.4 684.5,160.9 686.0,160.4 687.5,160.0 689.0,159.9 690.5,159.9 692.0,160.1 693.5,160.2 695.0,160.3 696.5,160.5 698.0,160.6 699.5,160.8 701.0,160.9 702.5,161.0 704.0,161.2 705.5,161.3 707.0,161.5 708.5,161.6 710.0,161.8 711.5,161.9 713.0,162.0 714.5,162.2 716.0,162.3 717.5,162.4 719.0,162.5 720.5,162.6 722.0,162.7 723.5,162.8 725.0,162.9 726.5,163.0 728.0,163.0 729.5,163.1 731.0,163.2 732.5,163.3 734.0,163.4 735.5,163.5 737.0,163.6 738.5,163.7 740.0,163.8 741.5,163.9 743.0,164.0 744.5,164.1 746.0,164.2 747.5,164.3 749.0,164.4 750.5,164.5 752.0,164.6 753.5,164.7 755.0,164.9 756.5,165.4 758.0,166.1 759.5,167.4 761.0,169.5 762.5,172.0 764.0,174.4" stroke="#127c94"/><path d="M441.5,169.9 443.0,169.5 444.5,169.8 446.0,170.4 447.5,171.1 449.0,171.8 450.5,172.4 452.0,173.1 453.5,173.8 455.0,174.5 456.5,175.3 458.0,176.0 459.5,176.7 461.0,177.4 462.5,178.1 464.0,178.9 465.5,179.7 467.0,180.5 468.5,181.4 470.0,182.3 471.5,183.4 473.0,184.5 474.5,185.7 476.0,186.9 477.5,188.4 479.0,190.1 480.5,192.1 482.0,194.4 483.5,196.8 485.0,199.3 486.5,202.4 488.0,205.6 489.5,207.6 491.0,207.5 492.5,203.3 494.0,196.1 495.5,188.0 497.0,179.7 498.5,174.9 500.0,168.8 501.5,160.5 503.0,152.7 504.5,146.5 506.0,141.2 507.5,136.8 509.0,133.5 510.5,132.4 512.0,132.7 513.5,133.8 515.0,135.3 516.5,137.6 518.0,139.2 519.5,137.3 521.0,134.8 522.5,132.9 524.0,131.2 525.5,129.8 527.0,128.9 528.5,128.7 530.0,129.1 531.5,130.1 533.0,131.8 534.5,134.1 536.0,136.6 537.5,139.0 539.0,141.1 540.5,142.7 542.0,143.8 543.5,144.7 545.0,145.5 546.5,146.2 548.0,146.9 549.5,147.5 551.0,148.0 552.5,148.5 554.0,148.8 555.5,149.1 557.0,149.4 558.5,149.7 560.0,149.9 561.5,150.2 563.0,150.4 564.5,150.7 566.0,150.9 567.5,151.1 569.0,151.4 570.5,151.7 572.0,152.0 573.5,152.3 575.0,152.6 576.5,152.9 578.0,153.2 579.5,153.5 581.0,153.8 582.5,154.1 584.0,154.5 585.5,154.8 587.0,155.2 588.5,155.5 590.0,155.8 591.5,156.2 593.0,156.4 594.5,156.6 596.0,156.9 597.5,157.2 599.0,157.5 600.5,158.0 602.0,158.4 603.5,159.0 605.0,159.6 606.5,160.2 608.0,161.0 609.5,162.0 611.0,163.4 612.5,164.7 614.0,166.3 615.5,168.6 617.0,171.5 618.5,174.8 620.0,179.1 621.5,179.5 623.0,170.8 624.5,157.2 626.0,146.8 627.5,143.0 629.0,142.8 630.5,144.1 632.0,145.6 633.5,147.7 635.0,149.5 636.5,151.0 638.0,152.2 639.5,153.3 641.0,154.2 642.5,155.1 644.0,155.8 645.5,156.4 647.0,156.8 648.5,157.1 650.0,157.5 651.5,157.7 653.0,158.0 654.5,158.3 656.0,158.5 657.5,158.8 659.0,159.1 660.5,159.3 662.0,159.6 663.5,159.8 665.0,160.0 666.5,160.2 668.0,160.4 669.5,160.6 671.0,160.8 672.5,161.0 674.0,161.2 675.5,161.4 677.0,161.6 678.5,161.8 680.0,162.0 681.5,161.9 683.0,161.2 684.5,160.7 686.0,160.1 687.5,159.7 689.0,159.5 690.5,159.5 692.0,159.7 693.5,159.9 695.0,160.0 696.5,160.2 698.0,160.3 699.5,160.4 701.0,160.6 702.5,160.8 704.0,160.9 705.5,161.1 707.0,161.2 708.5,161.4 710.0,161.5 711.5,161.7 713.0,161.8 714.5,161.9 716.0,162.1 717.5,162.2 719.0,162.3 720.5,162.4 722.0,162.5 723.5,162.6 725.0,162.7 726.5,162.8 728.0,162.8 729.5,162.9 731.0,163.0 732.5,163.1 734.0,163.2 735.5,163.3 737.0,163.4 738.5,163.5 740.0,163.6 741.5,163.7 743.0,163.8 744.5,163.9 746.0,164.1 747.5,164.2 749.0,164.3 750.5,164.4 752.0,164.5 753.5,164.6 755.0,164.8 756.5,165.2 758.0,165.9 759.5,167.3 761.0,169.4 762.5,172.1 764.0,174.4" stroke="#107091"/><path d="M441.5,169.8 443.0,169.4 444.5,169.7 446.0,170.3 447.5,170.9 449.0,171.6 450.5,172.4 452.0,173.1 453.5,173.8 455.0,174.5 456.5,175.3 458.0,176.0 459.5,176.7 461.0,177.4 462.5,178.2 464.0,178.9 465.5,179.8 467.0,180.6 468.5,181.5 470.0,182.5 471.5,183.6 473.0,184.7 474.5,185.9 476.0,187.2 477.5,188.7 479.0,190.4 480.5,192.5 482.0,194.9 483.5,197.4 485.0,200.1 486.5,203.3 488.0,206.6 489.5,208.6 491.0,208.5 492.5,204.3 494.0,197.1 495.5,188.8 497.0,180.6 498.5,176.1 500.0,169.9 501.5,161.3 503.0,153.2 504.5,146.7 506.0,141.3 507.5,136.6 509.0,133.1 510.5,132.0 512.0,132.4 513.5,133.5 515.0,135.0 516.5,137.3 518.0,138.8 519.5,136.8 521.0,134.3 522.5,132.4 524.0,130.7 525.5,129.3 527.0,128.4 528.5,128.2 530.0,128.5 531.5,129.5 533.0,131.1 534.5,133.3 536.0,135.7 537.5,138.0 539.0,140.1 540.5,141.5 542.0,142.6 543.5,143.5 545.0,144.3 546.5,145.0 548.0,145.7 549.5,146.3 551.0,146.9 552.5,147.3 554.0,147.7 555.5,148.1 557.0,148.4 558.5,148.7 560.0,149.0 561.5,149.2 563.0,149.5 564.5,149.8 566.0,150.0 567.5,150.3 569.0,150.6 570.5,150.9 572.0,151.3 573.5,151.6 575.0,151.9 576.5,152.3 578.0,152.6 579.5,152.9 581.0,153.3 582.5,153.6 584.0,154.0 585.5,154.4 587.0,154.7 588.5,155.1 590.0,155.4 591.5,155.8 593.0,156.1 594.5,156.3 596.0,156.6 597.5,156.9 599.0,157.2 600.5,157.7 602.0,158.1 603.5,158.7 605.0,159.3 606.5,159.9 608.0,160.7 609.5,161.7 611.0,163.0 612.5,164.4 614.0,165.9 615.5,168.2 617.0,171.1 618.5,174.4 620.0,178.7 621.5,179.0 623.0,170.3 624.5,156.8 626.0,146.3 627.5,142.5 629.0,142.3 630.5,143.5 632.0,145.1 633.5,147.1 635.0,149.0 636.5,150.4 638.0,151.6 639.5,152.7 641.0,153.6 642.5,154.5 644.0,155.2 645.5,155.8 647.0,156.2 648.5,156.7 650.0,157.0 651.5,157.3 653.0,157.6 654.5,157.9 656.0,158.2 657.5,158.5 659.0,158.8 660.5,159.0 662.0,159.3 663.5,159.5 665.0,159.8 666.5,160.0 668.0,160.2 669.5,160.4 671.0,160.6 672.5,160.8 674.0,161.1 675.5,161.3 677.0,161.5 678.5,161.7 680.0,161.9 681.5,161.7 683.0,161.0 684.5,160.4 686.0,159.8 687.5,159.3 689.0,159.1 690.5,159.2 692.0,159.3 693.5,159.5 695.0,159.7 696.5,159.8 698.0,160.0 699.5,160.1 701.0,160.3 702.5,160.5 704.0,160.6 705.5,160.8 707.0,160.9 708.5,161.1 710.0,161.3 711.5,161.4 713.0,161.6 714.5,161.7 716.0,161.8 717.5,161.9 719.0,162.1 720.5,162.2 722.0,162.3 723.5,162.4 725.0,162.5 726.5,162.6 728.0,162.6 729.5,162.7 731.0,162.8 732.5,162.9 734.0,163.0 735.5,163.1 737.0,163.3 738.5,163.4 740.0,163.5 741.5,163.6 743.0,163.7 744.5,163.8 746.0,163.9 747.5,164.0 749.0,164.1 750.5,164.2 752.0,164.3 753.5,164.4 755.0,164.6 756.5,165.0 758.0,165.7 759.5,167.1 761.0,169.4 762.5,172.1 764.0,174.5" stroke="#0f668c"/><path d="M441.5,169.7 443.0,169.2 444.5,169.5 446.0,170.1 447.5,170.8 449.0,171.6 450.5,172.3 452.0,173.0 453.5,173.7 455.0,174.5 456.5,175.2 458.0,176.0 459.5,176.7 461.0,177.5 462.5,178.2 464.0,179.0 465.5,179.9 467.0,180.7 468.5,181.7 470.0,182.7 471.5,183.7 473.0,184.9 474.5,186.1 476.0,187.5 477.5,189.0 479.0,190.7 480.5,192.9 482.0,195.3 483.5,198.0 485.0,200.8 486.5,204.1 488.0,207.5 489.5,209.5 491.0,209.5 492.5,205.3 494.0,198.1 495.5,189.7 497.0,181.4 498.5,177.2 500.0,171.1 501.5,162.1 503.0,153.7 504.5,146.9 506.0,141.3 507.5,136.5 509.0,132.9 510.5,131.7 512.0,132.1 513.5,133.2 515.0,134.7 516.5,137.1 518.0,138.5 519.5,136.4 521.0,133.8 522.5,132.0 524.0,130.3 525.5,128.8 527.0,128.0 528.5,127.7 530.0,128.1 531.5,129.0 533.0,130.6 534.5,132.7 536.0,135.0 537.5,137.2 539.0,139.2 540.5,140.7 542.0,141.7 543.5,142.7 545.0,143.4 546.5,144.2 548.0,144.9 549.5,145.5 551.0,146.0 552.5,146.5 554.0,146.9 555.5,147.3 557.0,147.6 558.5,147.9 560.0,148.2 561.5,148.5 563.0,148.8 564.5,149.1 566.0,149.4 567.5,149.7 569.0,150.1 570.5,150.4 572.0,150.7 573.5,151.1 575.0,151.4 576.5,151.8 578.0,152.2 579.5,152.5 581.0,152.9 582.5,153.3 584.0,153.7 585.5,154.0 587.0,154.4 588.5,154.8 590.0,155.1 591.5,155.5 593.0,155.8 594.5,156.0 596.0,156.3 597.5,156.6 599.0,157.0 600.5,157.4 602.0,157.9 603.5,158.5 605.0,159.1 606.5,159.7 608.0,160.5 609.5,161.4 611.0,162.7 612.5,164.1 614.0,165.6 615.5,167.9 617.0,170.7 618.5,174.0 620.0,178.2 621.5,178.5 623.0,169.8 624.5,156.2 626.0,145.7 627.5,141.9 629.0,141.7 630.5,142.9 632.0,144.5 633.5,146.5 635.0,148.3 636.5,149.8 638.0,151.0 639.5,152.0 641.0,153.0 642.5,153.8 644.0,154.5 645.5,155.2 647.0,155.7 648.5,156.1 650.0,156.5 651.5,156.9 653.0,157.2 654.5,157.5 656.0,157.8 657.5,158.1 659.0,158.4 660.5,158.7 662.0,159.0 663.5,159.2 665.0,159.5 666.5,159.7 668.0,160.0 669.5,160.2 671.0,160.4 672.5,160.7 674.0,160.9 675.5,161.2 677.0,161.4 678.5,161.6 680.0,161.7 681.5,161.6 683.0,160.8 684.5,160.1 686.0,159.4 687.5,158.9 689.0,158.7 690.5,158.7 692.0,158.9 693.5,159.1 695.0,159.3 696.5,159.4 698.0,159.6 699.5,159.8 701.0,159.9 702.5,160.1 704.0,160.3 705.5,160.5 707.0,160.6 708.5,160.8 710.0,161.0 711.5,161.1 713.0,161.3 714.5,161.4 716.0,161.6 717.5,161.7 719.0,161.8 720.5,161.9 722.0,162.0 723.5,162.1 725.0,162.2 726.5,162.3 728.0,162.4 729.5,162.5 731.0,162.6 732.5,162.7 734.0,162.8 735.5,162.9 737.0,163.1 738.5,163.2 740.0,163.3 741.5,163.4 743.0,163.5 744.5,163.6 746.0,163.7 747.5,163.9 749.0,164.0 750.5,164.1 752.0,164.1 753.5,164.2 755.0,164.4 756.5,164.8 758.0,165.5 759.5,167.0 761.0,169.4 762.5,172.2 764.0,174.6" stroke="#0f5c87"/><path d="M441.5,169.6 443.0,169.2 444.5,169.5 446.0,170.1 447.5,170.8 449.0,171.5 450.5,172.2 452.0,173.0 453.5,173.7 455.0,174.5 456.5,175.2 458.0,176.0 459.5,176.7 461.0,177.5 462.5,178.2 464.0,179.1 465.5,179.9 467.0,180.8 468.5,181.7 470.0,182.7 471.5,183.8 473.0,185.0 474.5,186.3 476.0,187.6 477.5,189.2 479.0,191.0 480.5,193.2 482.0,195.7 483.5,198.4 485.0,201.3 486.5,204.8 488.0,208.2 489.5,210.3 491.0,210.4 492.5,206.2 494.0,198.9 495.5,190.5 497.0,182.2 498.5,178.2 500.0,172.2 501.5,162.8 503.0,154.0 504.5,147.0 506.0,141.3 507.5,136.4 509.0,132.7 510.5,131.5 512.0,131.9 513.5,133.1 515.0,134.6 516.5,136.9 518.0,138.3 519.5,136.2 521.0,133.6 522.5,131.7 524.0,130.0 525.5,128.6 527.0,127.7 528.5,127.5 530.0,127.8 531.5,128.8 533.0,130.2 534.5,132.3 536.0,134.6 537.5,136.8 539.0,138.8 540.5,140.2 542.0,141.3 543.5,142.2 545.0,143.0 546.5,143.7 548.0,144.4 549.5,145.1 551.0,145.6 552.5,146.1 554.0,146.5 555.5,146.9 557.0,147.2 558.5,147.6 560.0,147.9 561.5,148.2 563.0,148.5 564.5,148.8 566.0,149.1 567.5,149.4 569.0,149.8 570.5,150.1 572.0,150.5 573.5,150.8 575.0,151.2 576.5,151.6 578.0,152.0 579.5,152.3 581.0,152.7 582.5,153.1 584.0,153.5 585.5,153.9 587.0,154.2 588.5,154.6 590.0,155.0 591.5,155.4 593.0,155.7 594.5,155.9 596.0,156.2 597.5,156.5 599.0,156.9 600.5,157.3 602.0,157.8 603.5,158.3 605.0,158.9 606.5,159.6 608.0,160.3 609.5,161.2 611.0,162.5 612.5,163.8 614.0,165.3 615.5,167.6 617.0,170.4 618.5,173.7 620.0,177.9 621.5,178.1 623.0,169.3 624.5,155.7 626.0,145.1 627.5,141.2 629.0,140.9 630.5,142.0 632.0,143.6 633.5,145.6 635.0,147.5 636.5,148.9 638.0,150.1 639.5,151.2 641.0,152.1 642.5,152.9 644.0,153.7 645.5,154.3 647.0,154.9 648.5,155.4 650.0,155.9 651.5,156.2 653.0,156.6 654.5,156.9 656.0,157.3 657.5,157.6 659.0,157.9 660.5,158.2 662.0,158.5 663.5,158.8 665.0,159.1 666.5,159.4 668.0,159.6 669.5,159.9 671.0,160.2 672.5,160.5 674.0,160.7 675.5,161.0 677.0,161.2 678.5,161.4 680.0,161.6 681.5,161.4 683.0,160.5 684.5,159.7 686.0,158.9 687.5,158.3 689.0,158.1 690.5,158.2 692.0,158.3 693.5,158.6 695.0,158.7 696.5,158.9 698.0,159.1 699.5,159.3 701.0,159.5 702.5,159.7 704.0,159.9 705.5,160.1 707.0,160.2 708.5,160.4 710.0,160.6 711.5,160.8 713.0,160.9 714.5,161.1 716.0,161.2 717.5,161.3 719.0,161.5 720.5,161.6 722.0,161.7 723.5,161.8 725.0,161.9 726.5,162.0 728.0,162.1 729.5,162.2 731.0,162.3 732.5,162.4 734.0,162.6 735.5,162.7 737.0,162.8 738.5,162.9 740.0,163.0 741.5,163.2 743.0,163.3 744.5,163.4 746.0,163.5 747.5,163.6 749.0,163.7 750.5,163.8 752.0,163.9 753.5,163.9 755.0,164.1 756.5,164.5 758.0,165.2 759.5,166.8 761.0,169.3 762.5,172.3 764.0,174.7" stroke="#0e5282"/></g>
<path d="M536.0,135.6C536.3,136.2 537.5,137.8 538.0,139.0C538.5,140.2 538.7,140.0 539.2,142.5C539.7,145.0 540.4,150.1 541.0,154.0C541.6,157.9 542.3,162.7 543.0,166.0C543.7,169.3 544.2,172.0 545.0,174.0C545.8,176.0 546.8,177.0 548.0,177.8C549.2,178.6 550.0,179.0 552.0,178.8C554.0,178.6 557.0,177.5 560.0,176.4C563.0,175.3 566.7,173.5 570.0,172.2C573.3,170.9 576.7,169.4 580.0,168.6C583.3,167.8 586.7,167.5 590.0,167.2C593.3,166.9 597.0,166.8 600.0,166.8C603.0,166.9 605.7,167.1 608.0,167.5C610.3,167.9 612.3,168.5 614.0,169.5C615.7,170.5 616.7,173.1 618.0,173.5C619.3,173.9 620.8,173.2 622.0,172.0C623.2,170.8 624.5,168.7 625.4,166.0C626.3,163.3 626.7,158.2 627.2,156.0C627.7,153.8 628.1,152.3 628.6,152.5C629.1,152.7 629.6,155.2 630.2,157.0C630.8,158.8 631.3,162.0 632.4,163.2C633.5,164.4 634.4,164.0 636.8,164.0C639.2,164.0 643.5,163.2 646.6,163.0C649.7,162.8 652.4,162.9 655.3,163.1C658.2,163.2 661.2,163.8 664.1,163.9C667.0,164.0 670.1,163.4 672.8,163.5C675.5,163.6 678.1,164.2 680.4,164.4C682.7,164.6 682.4,164.3 686.4,164.4C690.4,164.5 698.5,164.8 704.6,165.0C710.7,165.2 716.7,165.7 722.8,165.9C728.9,166.2 736.1,166.3 741.0,166.5C745.9,166.7 749.3,167.0 752.0,167.3C754.7,167.6 755.5,167.9 757.0,168.5C758.5,169.1 759.7,169.8 761.0,171.0C762.3,172.2 764.0,175.2 764.6,176.0" fill="none" stroke="#ff7676" stroke-width="1.8" stroke-dasharray="4,4"/>
<path d="M441.5,168.7C441.9,168.6 443.1,168.2 444.0,168.3C444.9,168.4 445.9,168.8 447.0,169.3C448.1,169.8 448.7,170.3 450.5,171.3C452.3,172.3 455.2,173.9 457.6,175.1C460.0,176.3 462.2,177.3 464.6,178.6C467.0,179.9 469.3,181.1 471.7,182.9C474.1,184.7 477.1,187.5 478.8,189.3C480.5,191.2 481.0,192.2 482.0,194.0C483.0,195.8 483.8,197.7 484.7,199.9C485.6,202.1 486.6,205.2 487.5,207.0C488.4,208.8 489.5,211.2 490.3,211.0C491.1,210.8 491.9,208.3 492.5,206.0C493.1,203.7 493.4,200.5 494.0,197.0C494.6,193.5 495.4,188.1 496.0,185.0C496.6,181.9 497.0,180.1 497.5,178.5C498.0,176.9 498.5,178.4 499.2,175.5C499.9,172.6 501.0,164.9 501.6,161.0C502.2,157.1 502.4,154.8 503.0,152.0C503.6,149.2 504.2,146.4 505.0,144.0C505.8,141.6 506.8,139.0 507.5,137.5C508.2,136.0 508.8,135.5 509.5,135.0C510.2,134.5 510.7,134.1 511.6,134.5C512.5,134.9 514.1,136.7 515.1,137.6C516.1,138.5 516.9,140.1 517.9,140.0C518.9,139.9 519.9,138.1 521.0,137.1C522.1,136.1 523.4,134.8 524.6,134.0C525.8,133.2 526.9,132.6 528.1,132.4C529.3,132.2 530.6,132.6 531.7,133.1C532.9,133.6 533.9,134.4 535.0,135.2C536.1,136.0 536.7,136.9 538.5,137.8C540.3,138.7 542.4,139.3 546.0,140.4C549.6,141.5 556.0,143.1 560.0,144.2C564.0,145.3 566.7,146.0 570.0,147.0C573.3,148.0 576.7,148.9 580.0,150.0C583.3,151.1 586.7,152.3 590.0,153.4C593.3,154.5 597.0,155.4 600.0,156.5C603.0,157.6 606.1,158.8 608.0,159.8C609.9,160.8 610.4,161.6 611.5,162.5C612.6,163.4 613.4,163.9 614.5,165.5C615.6,167.1 617.0,169.9 618.0,172.0C619.0,174.1 619.7,176.8 620.2,177.8C620.7,178.9 620.8,179.0 621.2,178.3C621.6,177.6 621.9,176.6 622.4,173.5C622.9,170.4 623.5,164.4 624.0,160.0C624.5,155.6 624.9,150.2 625.5,147.0C626.1,143.8 626.8,141.3 627.7,140.5C628.6,139.7 629.7,140.9 631.0,142.0C632.3,143.1 633.7,145.7 635.3,147.3C636.9,148.9 638.8,150.3 640.8,151.5C642.8,152.7 645.1,153.7 647.3,154.5C649.5,155.3 651.0,155.6 653.9,156.3C656.8,157.0 660.4,157.7 664.6,158.5C668.8,159.3 676.1,160.7 679.1,161.0C682.1,161.3 681.3,160.7 682.8,160.1C684.3,159.5 686.1,158.0 688.2,157.7C690.3,157.4 691.2,157.8 695.5,158.3C699.8,158.8 707.6,159.9 713.7,160.5C719.8,161.1 726.1,161.5 731.9,161.9C737.7,162.3 744.4,162.9 748.3,163.2C752.2,163.5 753.7,163.2 755.5,163.7C757.3,164.1 758.0,164.5 759.2,165.9C760.4,167.3 761.9,170.8 762.8,172.3C763.7,173.8 764.3,174.6 764.6,175.0" fill="none" stroke="#e0101a" stroke-width="1.9" stroke-linejoin="round"/>
</g>
<g stroke="#555" stroke-width="1" fill="none"><rect x="56.5" y="14.5" width="322.5" height="206.0"/><line x1="56.5" y1="117.5" x2="379.0" y2="117.5"/></g><g stroke="#6a6a6a" stroke-width="1" fill="none"><line x1="89.5" y1="14.5" x2="89.5" y2="17.1"/><line x1="89.5" y1="117.5" x2="89.5" y2="114.9"/><line x1="89.5" y1="117.5" x2="89.5" y2="120.1"/><line x1="89.5" y1="220.5" x2="89.5" y2="217.9"/><line x1="149.5" y1="14.5" x2="149.5" y2="17.1"/><line x1="149.5" y1="117.5" x2="149.5" y2="114.9"/><line x1="149.5" y1="117.5" x2="149.5" y2="120.1"/><line x1="149.5" y1="220.5" x2="149.5" y2="217.9"/><line x1="209.5" y1="14.5" x2="209.5" y2="17.1"/><line x1="209.5" y1="117.5" x2="209.5" y2="114.9"/><line x1="209.5" y1="117.5" x2="209.5" y2="120.1"/><line x1="209.5" y1="220.5" x2="209.5" y2="217.9"/><line x1="269.5" y1="14.5" x2="269.5" y2="17.1"/><line x1="269.5" y1="117.5" x2="269.5" y2="114.9"/><line x1="269.5" y1="117.5" x2="269.5" y2="120.1"/><line x1="269.5" y1="220.5" x2="269.5" y2="217.9"/><line x1="328.5" y1="14.5" x2="328.5" y2="17.1"/><line x1="328.5" y1="117.5" x2="328.5" y2="114.9"/><line x1="328.5" y1="117.5" x2="328.5" y2="120.1"/><line x1="328.5" y1="220.5" x2="328.5" y2="217.9"/><line x1="59.5" y1="14.5" x2="59.5" y2="16.1"/><line x1="59.5" y1="117.5" x2="59.5" y2="115.9"/><line x1="59.5" y1="117.5" x2="59.5" y2="119.1"/><line x1="59.5" y1="220.5" x2="59.5" y2="218.9"/><line x1="119.5" y1="14.5" x2="119.5" y2="16.1"/><line x1="119.5" y1="117.5" x2="119.5" y2="115.9"/><line x1="119.5" y1="117.5" x2="119.5" y2="119.1"/><line x1="119.5" y1="220.5" x2="119.5" y2="218.9"/><line x1="179.5" y1="14.5" x2="179.5" y2="16.1"/><line x1="179.5" y1="117.5" x2="179.5" y2="115.9"/><line x1="179.5" y1="117.5" x2="179.5" y2="119.1"/><line x1="179.5" y1="220.5" x2="179.5" y2="218.9"/><line x1="239.5" y1="14.5" x2="239.5" y2="16.1"/><line x1="239.5" y1="117.5" x2="239.5" y2="115.9"/><line x1="239.5" y1="117.5" x2="239.5" y2="119.1"/><line x1="239.5" y1="220.5" x2="239.5" y2="218.9"/><line x1="298.5" y1="14.5" x2="298.5" y2="16.1"/><line x1="298.5" y1="117.5" x2="298.5" y2="115.9"/><line x1="298.5" y1="117.5" x2="298.5" y2="119.1"/><line x1="298.5" y1="220.5" x2="298.5" y2="218.9"/><line x1="358.5" y1="14.5" x2="358.5" y2="16.1"/><line x1="358.5" y1="117.5" x2="358.5" y2="115.9"/><line x1="358.5" y1="117.5" x2="358.5" y2="119.1"/><line x1="358.5" y1="220.5" x2="358.5" y2="218.9"/><line x1="56.5" y1="28.5" x2="59.1" y2="28.5"/><line x1="379.0" y1="28.5" x2="376.4" y2="28.5"/><line x1="56.5" y1="57.5" x2="59.1" y2="57.5"/><line x1="379.0" y1="57.5" x2="376.4" y2="57.5"/><line x1="56.5" y1="87.5" x2="59.1" y2="87.5"/><line x1="379.0" y1="87.5" x2="376.4" y2="87.5"/><line x1="56.5" y1="116.5" x2="59.1" y2="116.5"/><line x1="379.0" y1="116.5" x2="376.4" y2="116.5"/><line x1="56.5" y1="141.5" x2="59.1" y2="141.5"/><line x1="379.0" y1="141.5" x2="376.4" y2="141.5"/><line x1="56.5" y1="172.5" x2="59.1" y2="172.5"/><line x1="379.0" y1="172.5" x2="376.4" y2="172.5"/><line x1="56.5" y1="202.5" x2="59.1" y2="202.5"/><line x1="379.0" y1="202.5" x2="376.4" y2="202.5"/><line x1="56.5" y1="43.5" x2="58.1" y2="43.5"/><line x1="379.0" y1="43.5" x2="377.4" y2="43.5"/><line x1="56.5" y1="72.5" x2="58.1" y2="72.5"/><line x1="379.0" y1="72.5" x2="377.4" y2="72.5"/><line x1="56.5" y1="102.5" x2="58.1" y2="102.5"/><line x1="379.0" y1="102.5" x2="377.4" y2="102.5"/><line x1="56.5" y1="126.5" x2="58.1" y2="126.5"/><line x1="379.0" y1="126.5" x2="377.4" y2="126.5"/><line x1="56.5" y1="157.5" x2="58.1" y2="157.5"/><line x1="379.0" y1="157.5" x2="377.4" y2="157.5"/><line x1="56.5" y1="187.5" x2="58.1" y2="187.5"/><line x1="379.0" y1="187.5" x2="377.4" y2="187.5"/><line x1="56.5" y1="217.5" x2="58.1" y2="217.5"/><line x1="379.0" y1="217.5" x2="377.4" y2="217.5"/></g>
<g stroke="#555" stroke-width="1" fill="none"><rect x="441.5" y="14.5" width="323.0" height="206.0"/><line x1="441.5" y1="117.5" x2="764.5" y2="117.5"/></g><g stroke="#6a6a6a" stroke-width="1" fill="none"><line x1="474.5" y1="14.5" x2="474.5" y2="17.1"/><line x1="474.5" y1="117.5" x2="474.5" y2="114.9"/><line x1="474.5" y1="117.5" x2="474.5" y2="120.1"/><line x1="474.5" y1="220.5" x2="474.5" y2="217.9"/><line x1="534.5" y1="14.5" x2="534.5" y2="17.1"/><line x1="534.5" y1="117.5" x2="534.5" y2="114.9"/><line x1="534.5" y1="117.5" x2="534.5" y2="120.1"/><line x1="534.5" y1="220.5" x2="534.5" y2="217.9"/><line x1="594.5" y1="14.5" x2="594.5" y2="17.1"/><line x1="594.5" y1="117.5" x2="594.5" y2="114.9"/><line x1="594.5" y1="117.5" x2="594.5" y2="120.1"/><line x1="594.5" y1="220.5" x2="594.5" y2="217.9"/><line x1="653.5" y1="14.5" x2="653.5" y2="17.1"/><line x1="653.5" y1="117.5" x2="653.5" y2="114.9"/><line x1="653.5" y1="117.5" x2="653.5" y2="120.1"/><line x1="653.5" y1="220.5" x2="653.5" y2="217.9"/><line x1="713.5" y1="14.5" x2="713.5" y2="17.1"/><line x1="713.5" y1="117.5" x2="713.5" y2="114.9"/><line x1="713.5" y1="117.5" x2="713.5" y2="120.1"/><line x1="713.5" y1="220.5" x2="713.5" y2="217.9"/><line x1="444.5" y1="14.5" x2="444.5" y2="16.1"/><line x1="444.5" y1="117.5" x2="444.5" y2="115.9"/><line x1="444.5" y1="117.5" x2="444.5" y2="119.1"/><line x1="444.5" y1="220.5" x2="444.5" y2="218.9"/><line x1="504.5" y1="14.5" x2="504.5" y2="16.1"/><line x1="504.5" y1="117.5" x2="504.5" y2="115.9"/><line x1="504.5" y1="117.5" x2="504.5" y2="119.1"/><line x1="504.5" y1="220.5" x2="504.5" y2="218.9"/><line x1="564.5" y1="14.5" x2="564.5" y2="16.1"/><line x1="564.5" y1="117.5" x2="564.5" y2="115.9"/><line x1="564.5" y1="117.5" x2="564.5" y2="119.1"/><line x1="564.5" y1="220.5" x2="564.5" y2="218.9"/><line x1="623.5" y1="14.5" x2="623.5" y2="16.1"/><line x1="623.5" y1="117.5" x2="623.5" y2="115.9"/><line x1="623.5" y1="117.5" x2="623.5" y2="119.1"/><line x1="623.5" y1="220.5" x2="623.5" y2="218.9"/><line x1="683.5" y1="14.5" x2="683.5" y2="16.1"/><line x1="683.5" y1="117.5" x2="683.5" y2="115.9"/><line x1="683.5" y1="117.5" x2="683.5" y2="119.1"/><line x1="683.5" y1="220.5" x2="683.5" y2="218.9"/><line x1="743.5" y1="14.5" x2="743.5" y2="16.1"/><line x1="743.5" y1="117.5" x2="743.5" y2="115.9"/><line x1="743.5" y1="117.5" x2="743.5" y2="119.1"/><line x1="743.5" y1="220.5" x2="743.5" y2="218.9"/><line x1="441.5" y1="14.5" x2="444.1" y2="14.5"/><line x1="764.5" y1="14.5" x2="761.9" y2="14.5"/><line x1="441.5" y1="41.5" x2="444.1" y2="41.5"/><line x1="764.5" y1="41.5" x2="761.9" y2="41.5"/><line x1="441.5" y1="69.5" x2="444.1" y2="69.5"/><line x1="764.5" y1="69.5" x2="761.9" y2="69.5"/><line x1="441.5" y1="96.5" x2="444.1" y2="96.5"/><line x1="764.5" y1="96.5" x2="761.9" y2="96.5"/><line x1="441.5" y1="138.5" x2="444.1" y2="138.5"/><line x1="764.5" y1="138.5" x2="761.9" y2="138.5"/><line x1="441.5" y1="172.5" x2="444.1" y2="172.5"/><line x1="764.5" y1="172.5" x2="761.9" y2="172.5"/><line x1="441.5" y1="206.5" x2="444.1" y2="206.5"/><line x1="764.5" y1="206.5" x2="761.9" y2="206.5"/><line x1="441.5" y1="28.5" x2="443.1" y2="28.5"/><line x1="764.5" y1="28.5" x2="762.9" y2="28.5"/><line x1="441.5" y1="55.5" x2="443.1" y2="55.5"/><line x1="764.5" y1="55.5" x2="762.9" y2="55.5"/><line x1="441.5" y1="83.5" x2="443.1" y2="83.5"/><line x1="764.5" y1="83.5" x2="762.9" y2="83.5"/><line x1="441.5" y1="110.5" x2="443.1" y2="110.5"/><line x1="764.5" y1="110.5" x2="762.9" y2="110.5"/><line x1="441.5" y1="120.5" x2="443.1" y2="120.5"/><line x1="764.5" y1="120.5" x2="762.9" y2="120.5"/><line x1="441.5" y1="155.5" x2="443.1" y2="155.5"/><line x1="764.5" y1="155.5" x2="762.9" y2="155.5"/><line x1="441.5" y1="189.5" x2="443.1" y2="189.5"/><line x1="764.5" y1="189.5" x2="762.9" y2="189.5"/></g>
<circle cx="544.4" cy="105.6" r="4.6" fill="none" stroke="#222" stroke-width="1.1"/>
<circle cx="544.4" cy="175.6" r="4.6" fill="none" stroke="#222" stroke-width="1.1"/>
<g font-family='"Liberation Serif", serif' fill="#111">
<text x="3.6" y="19.9" font-size="20.0">a)</text>
<text x="388.0" y="19.3" font-size="20.0">b)</text>
<text x="53.3" y="33.1" font-size="19.0" text-anchor="end">50</text>
<text x="53.3" y="62.1" font-size="19.0" text-anchor="end">48</text>
<text x="53.3" y="92.1" font-size="19.0" text-anchor="end">46</text>
<text x="53.3" y="121.1" font-size="19.0" text-anchor="end">44</text>
<text x="53.3" y="146.1" font-size="19.0" text-anchor="end">5</text>
<text x="53.3" y="177.1" font-size="19.0" text-anchor="end">0</text>
<text x="53.3" y="207.1" font-size="19.0" text-anchor="end">-5</text>
<text x="89.8" y="236.6" font-size="19.0" text-anchor="middle">1150</text>
<text x="149.8" y="236.6" font-size="19.0" text-anchor="middle">1100</text>
<text x="209.8" y="236.6" font-size="19.0" text-anchor="middle">1050</text>
<text x="269.8" y="236.6" font-size="19.0" text-anchor="middle">1000</text>
<text x="328.8" y="236.6" font-size="19.0" text-anchor="middle">950</text>
<text x="438.3" y="19.1" font-size="19.0" text-anchor="end">50</text>
<text x="438.3" y="46.1" font-size="19.0" text-anchor="end">48</text>
<text x="438.3" y="74.1" font-size="19.0" text-anchor="end">46</text>
<text x="438.3" y="101.1" font-size="19.0" text-anchor="end">44</text>
<text x="438.3" y="143.1" font-size="19.0" text-anchor="end">5</text>
<text x="438.3" y="177.1" font-size="19.0" text-anchor="end">0</text>
<text x="438.3" y="211.1" font-size="19.0" text-anchor="end">-5</text>
<text x="474.8" y="236.6" font-size="19.0" text-anchor="middle">1150</text>
<text x="534.8" y="236.6" font-size="19.0" text-anchor="middle">1100</text>
<text x="594.8" y="236.6" font-size="19.0" text-anchor="middle">1050</text>
<text x="653.8" y="236.6" font-size="19.0" text-anchor="middle">1000</text>
<text x="713.8" y="236.6" font-size="19.0" text-anchor="middle">950</text>
<text x="128.9" y="266.8" font-size="21.5" textLength="179.2" lengthAdjust="spacingAndGlyphs">Wavenumber (cm<tspan dy="-7.8" font-size="14">-1</tspan><tspan dy="7.8">)</tspan></text>
<text x="513.4" y="266.8" font-size="21.5" textLength="179.2" lengthAdjust="spacingAndGlyphs">Wavenumber (cm<tspan dy="-7.8" font-size="14">-1</tspan><tspan dy="7.8">)</tspan></text>
<text transform="translate(21.8,59.4) rotate(-90)" x="0" y="0" font-size="20.0" text-anchor="middle" textLength="41.0" lengthAdjust="spacingAndGlyphs">&#936; (&#176;)</text>
<text transform="translate(23.6,163.2) rotate(-90)" x="0" y="0" font-size="20.0" text-anchor="middle" textLength="39.0" lengthAdjust="spacingAndGlyphs">&#916; (&#176;)</text>
<text transform="translate(406.8,59.4) rotate(-90)" x="0" y="0" font-size="20.0" text-anchor="middle" textLength="41.0" lengthAdjust="spacingAndGlyphs">&#936; (&#176;)</text>
<text transform="translate(409.1,163.4) rotate(-90)" x="0" y="0" font-size="20.0" text-anchor="middle" textLength="39.0" lengthAdjust="spacingAndGlyphs">&#916; (&#176;)</text>
<text x="161.6" y="35.6" font-size="18.0" textLength="57.0" lengthAdjust="spacingAndGlyphs">&#965;(O&#8211;C)</text>
<text x="143.8" y="59.9" font-size="17.0" textLength="94.2" lengthAdjust="spacingAndGlyphs">(crystalline)</text>
<text x="268.4" y="38.9" font-size="16.5" textLength="66.8" lengthAdjust="spacingAndGlyphs">&#965;<tspan dy="4.1" font-size="12.5">18A</tspan><tspan dy="-4.1">(B</tspan><tspan dy="4.1" font-size="12.5">2u</tspan><tspan dy="-4.1">)</tspan></text>
<text x="304.6" y="67.3" font-size="16.5" textLength="59.3" lengthAdjust="spacingAndGlyphs">&#965;<tspan dy="4.6" font-size="12.5">12</tspan><tspan dy="-4.6">(B</tspan><tspan dy="4.6" font-size="12.5">2u</tspan><tspan dy="-4.6">)</tspan></text>
<text x="581.7" y="134.9" font-size="18.0" textLength="66.9" lengthAdjust="spacingAndGlyphs">Rupture</text>
<text x="560.3" y="212.0" font-size="19.0" textLength="197.7" lengthAdjust="spacingAndGlyphs">Spectral tuning direction</text>
<text transform="translate(742.8,71.3) rotate(-90)" x="0" y="0" font-size="18.0" text-anchor="middle" textLength="88.0" lengthAdjust="spacingAndGlyphs">Time 24.5 s</text>
</g>
<line x1="156.5" y1="34.8" x2="140.5" y2="40.2" stroke="#000" stroke-width="1.7"/>
<polygon points="131.0,43.4 141.3,36.2 143.5,42.9" fill="#000"/>
<line x1="273.2" y1="44.6" x2="254.4" y2="56.8" stroke="#000" stroke-width="1.7"/>
<polygon points="246.0,62.3 254.1,52.8 258.0,58.7" fill="#000"/>
<line x1="326.5" y1="78.0" x2="314.1" y2="88.5" stroke="#000" stroke-width="1.7"/>
<polygon points="306.4,94.9 313.3,84.5 317.8,89.9" fill="#000"/>
<line x1="578.0" y1="128.5" x2="553.9" y2="112.5" stroke="#000" stroke-width="1.7"/>
<polygon points="545.6,107.0 557.5,110.7 553.7,116.6" fill="#000"/>
<line x1="578.0" y1="131.0" x2="551.9" y2="166.4" stroke="#000" stroke-width="1.7"/>
<polygon points="546.0,174.4 550.3,162.7 555.9,166.8" fill="#000"/>
<line x1="716.8" y1="28.7" x2="716.8" y2="102.6" stroke="#000" stroke-width="1.8"/>
<polygon points="716.8,114.6 714.0,100.6 719.6,100.6" fill="#000"/>
<line x1="748.3" y1="191.8" x2="611.7" y2="191.8" stroke="#000" stroke-width="1.8"/>
<polygon points="600.7,191.8 613.7,188.8 613.7,194.8" fill="#000"/></svg>
</body></html>
